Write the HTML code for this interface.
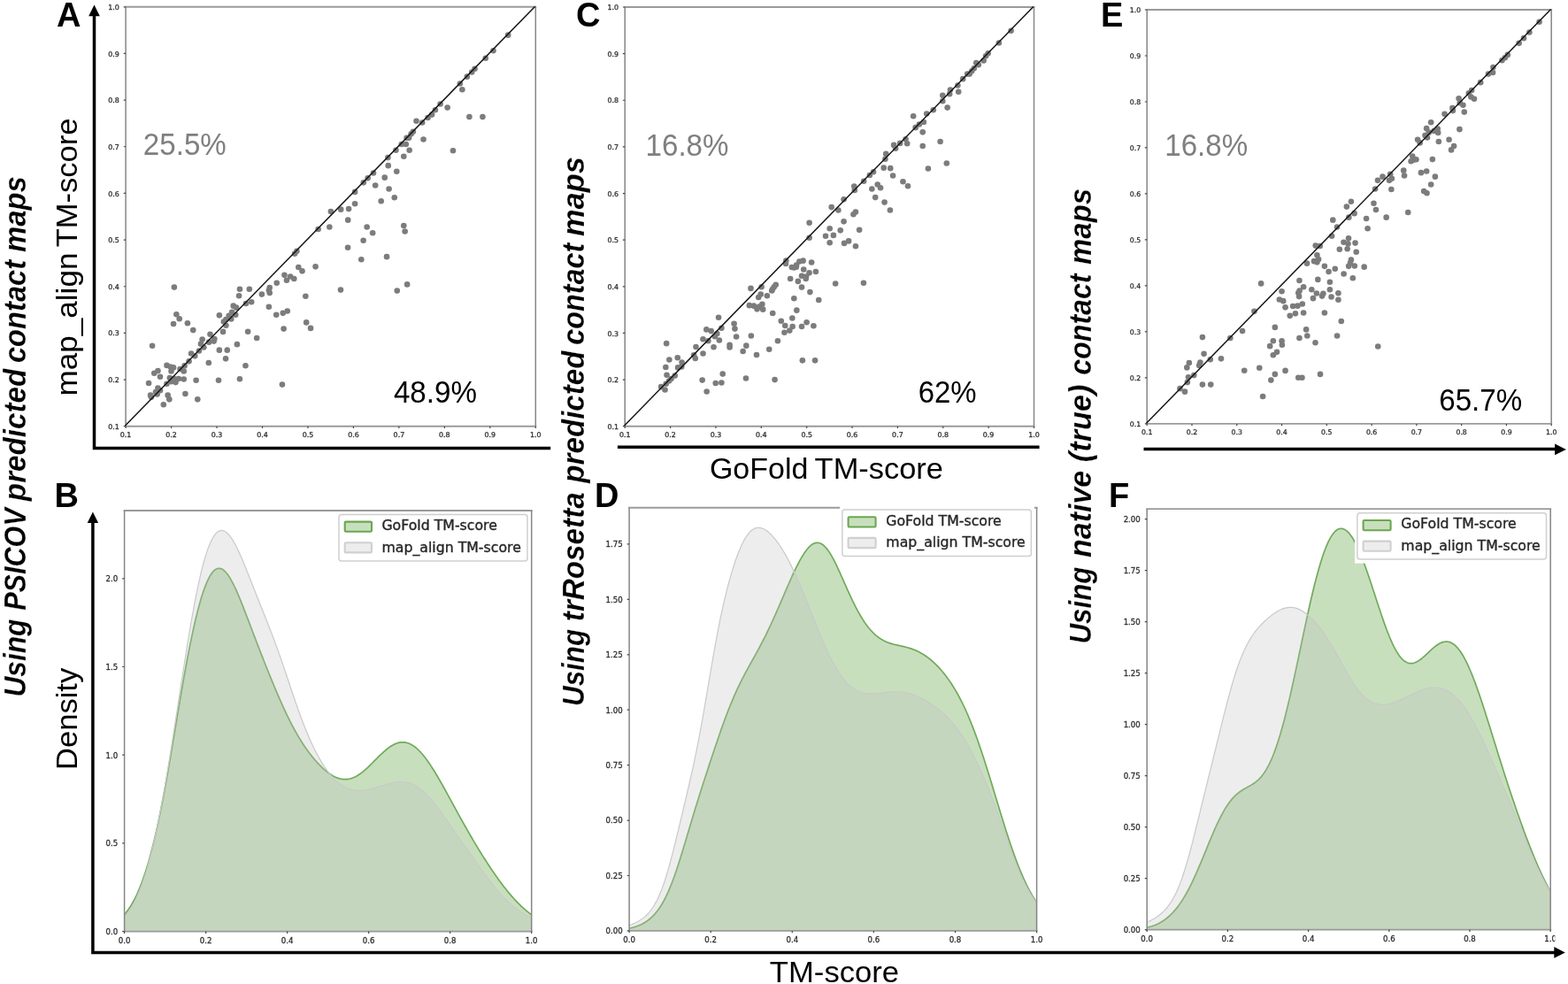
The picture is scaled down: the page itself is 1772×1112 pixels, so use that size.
<!DOCTYPE html>
<html lang="en"><head><meta charset="utf-8"><title>GoFold vs map_align TM-score</title>
<style>html,body{margin:0;padding:0;background:#fff}svg{display:block}text{white-space:pre}</style></head><body>
<svg width="1772" height="1112" viewBox="0 0 1772 1112">
<rect width="1772" height="1112" fill="#fff"/>
<g>
<path d="M141.15 7.8H606.25M141.15 481.7H606.25" fill="none" stroke="#9a9a9a" stroke-width="1.9"/>
<path d="M142.1 7.8V481.7M605.3 7.8V481.7" fill="none" stroke="#868686" stroke-width="1.5"/>
<path d="M142.1 481.7v2.4M193.57 481.7v2.4M245.03 481.7v2.4M296.5 481.7v2.4M347.97 481.7v2.4M399.43 481.7v2.4M450.9 481.7v2.4M502.37 481.7v2.4M553.83 481.7v2.4M605.3 481.7v2.4M142.1 481.7h-2.4M142.1 429.04h-2.4M142.1 376.39h-2.4M142.1 323.73h-2.4M142.1 271.08h-2.4M142.1 218.42h-2.4M142.1 165.77h-2.4M142.1 113.11h-2.4M142.1 60.46h-2.4M142.1 7.8h-2.4" stroke="#4a4a4a" stroke-width="1.2" fill="none"/>
<g font-family='"DejaVu Sans", "Liberation Sans", sans-serif' font-size="7.9" fill="#303030" stroke="#303030" stroke-width="0.3">
<text x="142.1" y="494.3" text-anchor="middle">0.1</text>
<text x="193.57" y="494.3" text-anchor="middle">0.2</text>
<text x="245.03" y="494.3" text-anchor="middle">0.3</text>
<text x="296.5" y="494.3" text-anchor="middle">0.4</text>
<text x="347.97" y="494.3" text-anchor="middle">0.5</text>
<text x="399.43" y="494.3" text-anchor="middle">0.6</text>
<text x="450.9" y="494.3" text-anchor="middle">0.7</text>
<text x="502.37" y="494.3" text-anchor="middle">0.8</text>
<text x="553.83" y="494.3" text-anchor="middle">0.9</text>
<text x="605.3" y="494.3" text-anchor="middle">1.0</text>
<text x="134.9" y="484.8" text-anchor="end">0.1</text>
<text x="134.9" y="432.14" text-anchor="end">0.2</text>
<text x="134.9" y="379.49" text-anchor="end">0.3</text>
<text x="134.9" y="326.83" text-anchor="end">0.4</text>
<text x="134.9" y="274.18" text-anchor="end">0.5</text>
<text x="134.9" y="221.52" text-anchor="end">0.6</text>
<text x="134.9" y="168.87" text-anchor="end">0.7</text>
<text x="134.9" y="116.21" text-anchor="end">0.8</text>
<text x="134.9" y="63.56" text-anchor="end">0.9</text>
<text x="134.9" y="10.9" text-anchor="end">1.0</text>
</g>
<g fill="#7c7c7c">
<circle cx="196.86" cy="324.58" r="3.3"/>
<circle cx="384.99" cy="327.59" r="3.3"/>
<circle cx="356.56" cy="301.34" r="3.3"/>
<circle cx="337.33" cy="302.01" r="3.3"/>
<circle cx="341.51" cy="306.35" r="3.3"/>
<circle cx="321.45" cy="310.87" r="3.3"/>
<circle cx="328.14" cy="312.54" r="3.3"/>
<circle cx="332.32" cy="315.05" r="3.3"/>
<circle cx="323.95" cy="316.72" r="3.3"/>
<circle cx="312.75" cy="319.73" r="3.3"/>
<circle cx="304.72" cy="325.08" r="3.3"/>
<circle cx="303.89" cy="328.09" r="3.3"/>
<circle cx="304.72" cy="330.94" r="3.3"/>
<circle cx="295.86" cy="332.61" r="3.3"/>
<circle cx="270.94" cy="326.76" r="3.3"/>
<circle cx="281.81" cy="326.76" r="3.3"/>
<circle cx="270.11" cy="334.28" r="3.3"/>
<circle cx="345.36" cy="334.78" r="3.3"/>
<circle cx="284.15" cy="341.31" r="3.3"/>
<circle cx="277.97" cy="342.98" r="3.3"/>
<circle cx="263.75" cy="345.65" r="3.3"/>
<circle cx="267.1" cy="347.66" r="3.3"/>
<circle cx="303.89" cy="346.82" r="3.3"/>
<circle cx="324.79" cy="351.51" r="3.3"/>
<circle cx="319.77" cy="353.85" r="3.3"/>
<circle cx="312.25" cy="355.69" r="3.3"/>
<circle cx="262.08" cy="352.68" r="3.3"/>
<circle cx="266.26" cy="355.69" r="3.3"/>
<circle cx="258.73" cy="356.86" r="3.3"/>
<circle cx="247.86" cy="356.36" r="3.3"/>
<circle cx="261.24" cy="360.54" r="3.3"/>
<circle cx="255.39" cy="361.04" r="3.3"/>
<circle cx="252.88" cy="363.55" r="3.3"/>
<circle cx="255.39" cy="367.73" r="3.3"/>
<circle cx="199.37" cy="355.19" r="3.3"/>
<circle cx="202.71" cy="360.2" r="3.3"/>
<circle cx="196.02" cy="366.06" r="3.3"/>
<circle cx="211.91" cy="365.22" r="3.3"/>
<circle cx="218.26" cy="373.08" r="3.3"/>
<circle cx="346.2" cy="364.38" r="3.3"/>
<circle cx="351.05" cy="370.91" r="3.3"/>
<circle cx="320.61" cy="371.58" r="3.3"/>
<circle cx="252.05" cy="374.92" r="3.3"/>
<circle cx="280.14" cy="374.75" r="3.3"/>
<circle cx="237.5" cy="377.76" r="3.3"/>
<circle cx="290.17" cy="381.94" r="3.3"/>
<circle cx="228.63" cy="383.62" r="3.3"/>
<circle cx="242.35" cy="383.11" r="3.3"/>
<circle cx="241.68" cy="385.62" r="3.3"/>
<circle cx="236.16" cy="386.63" r="3.3"/>
<circle cx="226.96" cy="388.63" r="3.3"/>
<circle cx="267.93" cy="389.13" r="3.3"/>
<circle cx="230.31" cy="392.48" r="3.3"/>
<circle cx="172.11" cy="390.81" r="3.3"/>
<circle cx="247.86" cy="395.66" r="3.3"/>
<circle cx="256.73" cy="395.66" r="3.3"/>
<circle cx="224.95" cy="396.49" r="3.3"/>
<circle cx="216.09" cy="399.5" r="3.3"/>
<circle cx="220.27" cy="402.35" r="3.3"/>
<circle cx="255.06" cy="405.36" r="3.3"/>
<circle cx="213.58" cy="408.37" r="3.3"/>
<circle cx="235.82" cy="410.04" r="3.3"/>
<circle cx="277.46" cy="413.22" r="3.3"/>
<circle cx="208.56" cy="413.38" r="3.3"/>
<circle cx="188.5" cy="412.88" r="3.3"/>
<circle cx="192.68" cy="414.55" r="3.3"/>
<circle cx="196.02" cy="415.39" r="3.3"/>
<circle cx="203.55" cy="417.06" r="3.3"/>
<circle cx="193.51" cy="419.57" r="3.3"/>
<circle cx="207.73" cy="419.57" r="3.3"/>
<circle cx="178.46" cy="419.07" r="3.3"/>
<circle cx="174.28" cy="421.74" r="3.3"/>
<circle cx="180.97" cy="425.76" r="3.3"/>
<circle cx="191.84" cy="427.1" r="3.3"/>
<circle cx="196.86" cy="427.93" r="3.3"/>
<circle cx="201.88" cy="427.93" r="3.3"/>
<circle cx="207.73" cy="428.43" r="3.3"/>
<circle cx="198.53" cy="432.11" r="3.3"/>
<circle cx="193.51" cy="431.28" r="3.3"/>
<circle cx="188.5" cy="433.79" r="3.3"/>
<circle cx="168.09" cy="432.95" r="3.3"/>
<circle cx="221.61" cy="429.77" r="3.3"/>
<circle cx="247.03" cy="429.77" r="3.3"/>
<circle cx="270.94" cy="428.27" r="3.3"/>
<circle cx="318.94" cy="434.62" r="3.3"/>
<circle cx="178.46" cy="438.47" r="3.3"/>
<circle cx="180.97" cy="441.31" r="3.3"/>
<circle cx="175.95" cy="442.98" r="3.3"/>
<circle cx="177.63" cy="445.49" r="3.3"/>
<circle cx="170.1" cy="446.66" r="3.3"/>
<circle cx="170.94" cy="448.84" r="3.3"/>
<circle cx="189.67" cy="446.66" r="3.3"/>
<circle cx="191.34" cy="451.34" r="3.3"/>
<circle cx="209.4" cy="444.99" r="3.3"/>
<circle cx="223.28" cy="451.34" r="3.3"/>
<circle cx="184.82" cy="457.2" r="3.3"/>
<circle cx="438.73" cy="187.13" r="3.3"/>
<circle cx="448.27" cy="193.81" r="3.3"/>
<circle cx="422.01" cy="195.49" r="3.3"/>
<circle cx="434.72" cy="200.67" r="3.3"/>
<circle cx="415.66" cy="201.34" r="3.3"/>
<circle cx="410.81" cy="206.36" r="3.3"/>
<circle cx="424.19" cy="209.53" r="3.3"/>
<circle cx="439.57" cy="213.55" r="3.3"/>
<circle cx="401.11" cy="216.89" r="3.3"/>
<circle cx="445.76" cy="223.25" r="3.3"/>
<circle cx="430.71" cy="227.26" r="3.3"/>
<circle cx="401.11" cy="230.27" r="3.3"/>
<circle cx="394.08" cy="236.12" r="3.3"/>
<circle cx="385.22" cy="236.63" r="3.3"/>
<circle cx="373.85" cy="238.97" r="3.3"/>
<circle cx="393.25" cy="248.67" r="3.3"/>
<circle cx="456.29" cy="255.02" r="3.3"/>
<circle cx="414.65" cy="256.53" r="3.3"/>
<circle cx="372.34" cy="256.53" r="3.3"/>
<circle cx="359.63" cy="259.04" r="3.3"/>
<circle cx="457.63" cy="261.54" r="3.3"/>
<circle cx="421.18" cy="263.22" r="3.3"/>
<circle cx="410.64" cy="271.74" r="3.3"/>
<circle cx="393.08" cy="279.77" r="3.3"/>
<circle cx="335.39" cy="283.79" r="3.3"/>
<circle cx="333.04" cy="286.8" r="3.3"/>
<circle cx="437.06" cy="290.14" r="3.3"/>
<circle cx="408.3" cy="293.32" r="3.3"/>
<circle cx="460.14" cy="321.41" r="3.3"/>
<circle cx="448.77" cy="328.6" r="3.3"/>
<circle cx="574.19" cy="39.63" r="3.3"/>
<circle cx="557.47" cy="57.19" r="3.3"/>
<circle cx="548.77" cy="65.72" r="3.3"/>
<circle cx="536.56" cy="77.76" r="3.3"/>
<circle cx="533.22" cy="81.44" r="3.3"/>
<circle cx="527.87" cy="86.63" r="3.3"/>
<circle cx="519.84" cy="94.49" r="3.3"/>
<circle cx="522.35" cy="101.18" r="3.3"/>
<circle cx="497.6" cy="117.56" r="3.3"/>
<circle cx="505.63" cy="121.58" r="3.3"/>
<circle cx="491.91" cy="124.25" r="3.3"/>
<circle cx="530.38" cy="132.11" r="3.3"/>
<circle cx="545.43" cy="132.11" r="3.3"/>
<circle cx="488.07" cy="129.6" r="3.3"/>
<circle cx="483.55" cy="132.95" r="3.3"/>
<circle cx="470.51" cy="136.8" r="3.3"/>
<circle cx="477.2" cy="138.47" r="3.3"/>
<circle cx="466.83" cy="148.84" r="3.3"/>
<circle cx="464.66" cy="151.34" r="3.3"/>
<circle cx="462.15" cy="155.86" r="3.3"/>
<circle cx="459.64" cy="155.86" r="3.3"/>
<circle cx="478.54" cy="157.53" r="3.3"/>
<circle cx="458.8" cy="163.05" r="3.3"/>
<circle cx="453.79" cy="163.05" r="3.3"/>
<circle cx="462.65" cy="169.74" r="3.3"/>
<circle cx="447.43" cy="169.74" r="3.3"/>
<circle cx="511.98" cy="170.24" r="3.3"/>
<circle cx="456.29" cy="176.76" r="3.3"/>
<circle cx="438.4" cy="178.1" r="3.3"/>
</g>
<line x1="141.5" y1="481.1" x2="604.7" y2="7.2" stroke="#141414" stroke-width="1.5"/>
<path d="M705.25 8H1169.45M705.25 481.7H1169.45" fill="none" stroke="#9a9a9a" stroke-width="1.9"/>
<path d="M706.2 8V481.7M1168.5 8V481.7" fill="none" stroke="#868686" stroke-width="1.5"/>
<path d="M706.2 481.7v2.4M757.57 481.7v2.4M808.93 481.7v2.4M860.3 481.7v2.4M911.67 481.7v2.4M963.03 481.7v2.4M1014.4 481.7v2.4M1065.77 481.7v2.4M1117.13 481.7v2.4M1168.5 481.7v2.4M706.2 481.7h-2.4M706.2 429.07h-2.4M706.2 376.43h-2.4M706.2 323.8h-2.4M706.2 271.17h-2.4M706.2 218.53h-2.4M706.2 165.9h-2.4M706.2 113.27h-2.4M706.2 60.63h-2.4M706.2 8h-2.4" stroke="#4a4a4a" stroke-width="1.2" fill="none"/>
<g font-family='"DejaVu Sans", "Liberation Sans", sans-serif' font-size="7.9" fill="#303030" stroke="#303030" stroke-width="0.3">
<text x="706.2" y="494.3" text-anchor="middle">0.1</text>
<text x="757.57" y="494.3" text-anchor="middle">0.2</text>
<text x="808.93" y="494.3" text-anchor="middle">0.3</text>
<text x="860.3" y="494.3" text-anchor="middle">0.4</text>
<text x="911.67" y="494.3" text-anchor="middle">0.5</text>
<text x="963.03" y="494.3" text-anchor="middle">0.6</text>
<text x="1014.4" y="494.3" text-anchor="middle">0.7</text>
<text x="1065.77" y="494.3" text-anchor="middle">0.8</text>
<text x="1117.13" y="494.3" text-anchor="middle">0.9</text>
<text x="1168.5" y="494.3" text-anchor="middle">1.0</text>
<text x="699" y="484.8" text-anchor="end">0.1</text>
<text x="699" y="432.17" text-anchor="end">0.2</text>
<text x="699" y="379.53" text-anchor="end">0.3</text>
<text x="699" y="326.9" text-anchor="end">0.4</text>
<text x="699" y="274.27" text-anchor="end">0.5</text>
<text x="699" y="221.63" text-anchor="end">0.6</text>
<text x="699" y="169" text-anchor="end">0.7</text>
<text x="699" y="116.37" text-anchor="end">0.8</text>
<text x="699" y="63.73" text-anchor="end">0.9</text>
<text x="699" y="11.1" text-anchor="end">1.0</text>
</g>
<g fill="#7c7c7c">
<circle cx="894.82" cy="302.01" r="3.3"/>
<circle cx="897.33" cy="302.51" r="3.3"/>
<circle cx="899.84" cy="301.67" r="3.3"/>
<circle cx="908.2" cy="304.52" r="3.3"/>
<circle cx="921.92" cy="307.02" r="3.3"/>
<circle cx="914.56" cy="308.36" r="3.3"/>
<circle cx="906.03" cy="311.71" r="3.3"/>
<circle cx="911.05" cy="312.54" r="3.3"/>
<circle cx="893.15" cy="315.05" r="3.3"/>
<circle cx="910.71" cy="315.05" r="3.3"/>
<circle cx="901.85" cy="317.89" r="3.3"/>
<circle cx="944.16" cy="320.57" r="3.3"/>
<circle cx="975.93" cy="319.73" r="3.3"/>
<circle cx="906.03" cy="324.58" r="3.3"/>
<circle cx="876.76" cy="321.74" r="3.3"/>
<circle cx="874.76" cy="324.25" r="3.3"/>
<circle cx="873.08" cy="326.76" r="3.3"/>
<circle cx="872.25" cy="328.43" r="3.3"/>
<circle cx="860.54" cy="324.25" r="3.3"/>
<circle cx="848.5" cy="325.92" r="3.3"/>
<circle cx="915.39" cy="330.1" r="3.3"/>
<circle cx="859.71" cy="332.61" r="3.3"/>
<circle cx="866.9" cy="334.28" r="3.3"/>
<circle cx="857.2" cy="335.95" r="3.3"/>
<circle cx="897.33" cy="337.29" r="3.3"/>
<circle cx="925.26" cy="338.96" r="3.3"/>
<circle cx="861.38" cy="343.81" r="3.3"/>
<circle cx="846.83" cy="345.15" r="3.3"/>
<circle cx="851.85" cy="345.65" r="3.3"/>
<circle cx="858.03" cy="346.49" r="3.3"/>
<circle cx="855.53" cy="349.33" r="3.3"/>
<circle cx="862.21" cy="349.67" r="3.3"/>
<circle cx="900.34" cy="350.67" r="3.3"/>
<circle cx="873.25" cy="354.02" r="3.3"/>
<circle cx="812.05" cy="358.7" r="3.3"/>
<circle cx="895.33" cy="359.53" r="3.3"/>
<circle cx="882.78" cy="362.71" r="3.3"/>
<circle cx="911.55" cy="364.22" r="3.3"/>
<circle cx="829.6" cy="365.72" r="3.3"/>
<circle cx="887.3" cy="368.06" r="3.3"/>
<circle cx="895.66" cy="369.07" r="3.3"/>
<circle cx="906.03" cy="369.07" r="3.3"/>
<circle cx="919.41" cy="368.23" r="3.3"/>
<circle cx="815.39" cy="370.74" r="3.3"/>
<circle cx="830.44" cy="371.58" r="3.3"/>
<circle cx="798.33" cy="372.41" r="3.3"/>
<circle cx="803.68" cy="374.08" r="3.3"/>
<circle cx="892.32" cy="373.58" r="3.3"/>
<circle cx="886.46" cy="375.76" r="3.3"/>
<circle cx="810.37" cy="376.93" r="3.3"/>
<circle cx="807.86" cy="380.27" r="3.3"/>
<circle cx="832.11" cy="380.44" r="3.3"/>
<circle cx="848.84" cy="379.44" r="3.3"/>
<circle cx="794.49" cy="383.28" r="3.3"/>
<circle cx="812.88" cy="384.45" r="3.3"/>
<circle cx="800.34" cy="385.29" r="3.3"/>
<circle cx="878.94" cy="385.29" r="3.3"/>
<circle cx="753.18" cy="388.13" r="3.3"/>
<circle cx="824.59" cy="389.8" r="3.3"/>
<circle cx="843.32" cy="390.64" r="3.3"/>
<circle cx="786.46" cy="391.98" r="3.3"/>
<circle cx="806.53" cy="392.31" r="3.3"/>
<circle cx="824.59" cy="392.48" r="3.3"/>
<circle cx="869.24" cy="394.82" r="3.3"/>
<circle cx="839.64" cy="396.99" r="3.3"/>
<circle cx="794.49" cy="399.5" r="3.3"/>
<circle cx="784.12" cy="401.18" r="3.3"/>
<circle cx="855.02" cy="401.01" r="3.3"/>
<circle cx="765.72" cy="404.19" r="3.3"/>
<circle cx="785.79" cy="405.02" r="3.3"/>
<circle cx="756.36" cy="406.53" r="3.3"/>
<circle cx="906.87" cy="407.36" r="3.3"/>
<circle cx="921.08" cy="407.36" r="3.3"/>
<circle cx="770.57" cy="409.54" r="3.3"/>
<circle cx="752.34" cy="415.06" r="3.3"/>
<circle cx="766.06" cy="415.39" r="3.3"/>
<circle cx="770.24" cy="414.55" r="3.3"/>
<circle cx="816.73" cy="422.58" r="3.3"/>
<circle cx="753.51" cy="423.75" r="3.3"/>
<circle cx="762.71" cy="424.59" r="3.3"/>
<circle cx="758.53" cy="427.93" r="3.3"/>
<circle cx="842.98" cy="427.43" r="3.3"/>
<circle cx="875.59" cy="429.1" r="3.3"/>
<circle cx="793.65" cy="429.6" r="3.3"/>
<circle cx="756.02" cy="430.44" r="3.3"/>
<circle cx="808.7" cy="432.95" r="3.3"/>
<circle cx="815.39" cy="432.45" r="3.3"/>
<circle cx="752.68" cy="433.79" r="3.3"/>
<circle cx="747.16" cy="437.13" r="3.3"/>
<circle cx="751.51" cy="440.47" r="3.3"/>
<circle cx="798.67" cy="442.48" r="3.3"/>
<circle cx="998.73" cy="189.63" r="3.3"/>
<circle cx="1006.26" cy="190.14" r="3.3"/>
<circle cx="1048.9" cy="190.47" r="3.3"/>
<circle cx="987.03" cy="194.32" r="3.3"/>
<circle cx="982.85" cy="198" r="3.3"/>
<circle cx="1009.1" cy="198.5" r="3.3"/>
<circle cx="976.16" cy="204.68" r="3.3"/>
<circle cx="1020.47" cy="205.19" r="3.3"/>
<circle cx="991.71" cy="208.53" r="3.3"/>
<circle cx="1025.99" cy="210.2" r="3.3"/>
<circle cx="965.29" cy="210.54" r="3.3"/>
<circle cx="995.06" cy="212.21" r="3.3"/>
<circle cx="985.36" cy="213.55" r="3.3"/>
<circle cx="965.79" cy="214.89" r="3.3"/>
<circle cx="989.2" cy="223.08" r="3.3"/>
<circle cx="953.58" cy="225.25" r="3.3"/>
<circle cx="999.57" cy="228.6" r="3.3"/>
<circle cx="939.7" cy="234.12" r="3.3"/>
<circle cx="947.39" cy="237.46" r="3.3"/>
<circle cx="1005.93" cy="237.46" r="3.3"/>
<circle cx="966.96" cy="239.47" r="3.3"/>
<circle cx="964.45" cy="242.31" r="3.3"/>
<circle cx="953.58" cy="250.34" r="3.3"/>
<circle cx="914.62" cy="251.68" r="3.3"/>
<circle cx="937.69" cy="258.2" r="3.3"/>
<circle cx="949.74" cy="260.37" r="3.3"/>
<circle cx="971.14" cy="259.87" r="3.3"/>
<circle cx="933.01" cy="266.73" r="3.3"/>
<circle cx="941.88" cy="265.89" r="3.3"/>
<circle cx="914.62" cy="268.73" r="3.3"/>
<circle cx="937.69" cy="274.25" r="3.3"/>
<circle cx="959.1" cy="272.41" r="3.3"/>
<circle cx="954.08" cy="274.92" r="3.3"/>
<circle cx="966.96" cy="278.27" r="3.3"/>
<circle cx="888.36" cy="294.66" r="3.3"/>
<circle cx="888.03" cy="298" r="3.3"/>
<circle cx="907.59" cy="294.66" r="3.3"/>
<circle cx="903.41" cy="295.49" r="3.3"/>
<circle cx="917.13" cy="296.49" r="3.3"/>
<circle cx="900.07" cy="299.67" r="3.3"/>
<circle cx="1142.55" cy="34.78" r="3.3"/>
<circle cx="1128.84" cy="48.5" r="3.3"/>
<circle cx="1116.63" cy="60.2" r="3.3"/>
<circle cx="1114.12" cy="63.21" r="3.3"/>
<circle cx="1111.62" cy="68.56" r="3.3"/>
<circle cx="1103.25" cy="71.07" r="3.3"/>
<circle cx="1105.76" cy="73.25" r="3.3"/>
<circle cx="1100.75" cy="77.26" r="3.3"/>
<circle cx="1098.24" cy="80.27" r="3.3"/>
<circle cx="1093.22" cy="83.62" r="3.3"/>
<circle cx="1095.73" cy="83.62" r="3.3"/>
<circle cx="1088.2" cy="89.13" r="3.3"/>
<circle cx="1082.35" cy="96.49" r="3.3"/>
<circle cx="1073.99" cy="101.51" r="3.3"/>
<circle cx="1083.19" cy="103.68" r="3.3"/>
<circle cx="1065.29" cy="107.86" r="3.3"/>
<circle cx="1073.15" cy="106.19" r="3.3"/>
<circle cx="1065.29" cy="114.22" r="3.3"/>
<circle cx="1070.64" cy="121.58" r="3.3"/>
<circle cx="1054.76" cy="124.25" r="3.3"/>
<circle cx="1047.23" cy="128.43" r="3.3"/>
<circle cx="1032.18" cy="131.28" r="3.3"/>
<circle cx="1043.89" cy="137.97" r="3.3"/>
<circle cx="1038.87" cy="140.47" r="3.3"/>
<circle cx="1034.69" cy="144.15" r="3.3"/>
<circle cx="1042.72" cy="149.34" r="3.3"/>
<circle cx="1023.48" cy="157.2" r="3.3"/>
<circle cx="1062.62" cy="160.04" r="3.3"/>
<circle cx="1017.13" cy="161.88" r="3.3"/>
<circle cx="1025.16" cy="162.21" r="3.3"/>
<circle cx="1010.11" cy="163.89" r="3.3"/>
<circle cx="1042.72" cy="165.06" r="3.3"/>
<circle cx="1012.11" cy="167.73" r="3.3"/>
<circle cx="1001.24" cy="173.92" r="3.3"/>
<circle cx="1000.41" cy="179.77" r="3.3"/>
<circle cx="1069.81" cy="184.46" r="3.3"/>
</g>
<line x1="705.6" y1="481.1" x2="1167.9" y2="7.4" stroke="#141414" stroke-width="1.5"/>
<path d="M1295.25 11H1754.15M1295.25 478.9H1754.15" fill="none" stroke="#9a9a9a" stroke-width="1.9"/>
<path d="M1296.2 11V478.9M1753.2 11V478.9" fill="none" stroke="#868686" stroke-width="1.5"/>
<path d="M1296.2 478.9v2.4M1346.98 478.9v2.4M1397.76 478.9v2.4M1448.53 478.9v2.4M1499.31 478.9v2.4M1550.09 478.9v2.4M1600.87 478.9v2.4M1651.64 478.9v2.4M1702.42 478.9v2.4M1753.2 478.9v2.4M1296.2 478.9h-2.4M1296.2 426.91h-2.4M1296.2 374.92h-2.4M1296.2 322.93h-2.4M1296.2 270.94h-2.4M1296.2 218.96h-2.4M1296.2 166.97h-2.4M1296.2 114.98h-2.4M1296.2 62.99h-2.4M1296.2 11h-2.4" stroke="#4a4a4a" stroke-width="1.2" fill="none"/>
<g font-family='"DejaVu Sans", "Liberation Sans", sans-serif' font-size="7.8" fill="#303030" stroke="#303030" stroke-width="0.3">
<text x="1296.2" y="490.6" text-anchor="middle">0.1</text>
<text x="1346.98" y="490.6" text-anchor="middle">0.2</text>
<text x="1397.76" y="490.6" text-anchor="middle">0.3</text>
<text x="1448.53" y="490.6" text-anchor="middle">0.4</text>
<text x="1499.31" y="490.6" text-anchor="middle">0.5</text>
<text x="1550.09" y="490.6" text-anchor="middle">0.6</text>
<text x="1600.87" y="490.6" text-anchor="middle">0.7</text>
<text x="1651.64" y="490.6" text-anchor="middle">0.8</text>
<text x="1702.42" y="490.6" text-anchor="middle">0.9</text>
<text x="1753.2" y="490.6" text-anchor="middle">1.0</text>
<text x="1289.2" y="481.9" text-anchor="end">0.1</text>
<text x="1289.2" y="429.91" text-anchor="end">0.2</text>
<text x="1289.2" y="377.92" text-anchor="end">0.3</text>
<text x="1289.2" y="325.93" text-anchor="end">0.4</text>
<text x="1289.2" y="273.94" text-anchor="end">0.5</text>
<text x="1289.2" y="221.96" text-anchor="end">0.6</text>
<text x="1289.2" y="169.97" text-anchor="end">0.7</text>
<text x="1289.2" y="117.98" text-anchor="end">0.8</text>
<text x="1289.2" y="65.99" text-anchor="end">0.9</text>
<text x="1289.2" y="14" text-anchor="end">1.0</text>
</g>
<g fill="#7c7c7c">
<circle cx="1496.87" cy="300.84" r="3.3"/>
<circle cx="1524.12" cy="300.84" r="3.3"/>
<circle cx="1530.81" cy="300.5" r="3.3"/>
<circle cx="1541.68" cy="301.67" r="3.3"/>
<circle cx="1508.74" cy="303.68" r="3.3"/>
<circle cx="1501.55" cy="307.02" r="3.3"/>
<circle cx="1518.61" cy="309.53" r="3.3"/>
<circle cx="1528.81" cy="314.21" r="3.3"/>
<circle cx="1468.44" cy="317.06" r="3.3"/>
<circle cx="1489.34" cy="315.89" r="3.3"/>
<circle cx="1502.89" cy="318.73" r="3.3"/>
<circle cx="1425.12" cy="320.4" r="3.3"/>
<circle cx="1473.12" cy="324.25" r="3.3"/>
<circle cx="1482.32" cy="327.26" r="3.3"/>
<circle cx="1502.89" cy="327.26" r="3.3"/>
<circle cx="1448.54" cy="329.27" r="3.3"/>
<circle cx="1468.6" cy="328.43" r="3.3"/>
<circle cx="1467.27" cy="330.94" r="3.3"/>
<circle cx="1487.84" cy="331.44" r="3.3"/>
<circle cx="1495.36" cy="331.77" r="3.3"/>
<circle cx="1512.42" cy="331.27" r="3.3"/>
<circle cx="1468.1" cy="335.12" r="3.3"/>
<circle cx="1494.02" cy="334.62" r="3.3"/>
<circle cx="1504.56" cy="335.45" r="3.3"/>
<circle cx="1483.99" cy="337.13" r="3.3"/>
<circle cx="1512.42" cy="338.8" r="3.3"/>
<circle cx="1445.86" cy="338.46" r="3.3"/>
<circle cx="1450.21" cy="340.14" r="3.3"/>
<circle cx="1471.78" cy="343.48" r="3.3"/>
<circle cx="1461.08" cy="345.99" r="3.3"/>
<circle cx="1466.43" cy="345.65" r="3.3"/>
<circle cx="1452.55" cy="347.33" r="3.3"/>
<circle cx="1417.43" cy="351.84" r="3.3"/>
<circle cx="1463.92" cy="354.35" r="3.3"/>
<circle cx="1473.12" cy="353.51" r="3.3"/>
<circle cx="1496.87" cy="353.51" r="3.3"/>
<circle cx="1457.73" cy="356.86" r="3.3"/>
<circle cx="1515.76" cy="363.05" r="3.3"/>
<circle cx="1440.84" cy="369.9" r="3.3"/>
<circle cx="1476.13" cy="372.41" r="3.3"/>
<circle cx="1404.05" cy="374.08" r="3.3"/>
<circle cx="1477.3" cy="379.44" r="3.3"/>
<circle cx="1511.08" cy="379.44" r="3.3"/>
<circle cx="1358.9" cy="381.11" r="3.3"/>
<circle cx="1390.34" cy="381.94" r="3.3"/>
<circle cx="1468.44" cy="381.94" r="3.3"/>
<circle cx="1438.84" cy="385.29" r="3.3"/>
<circle cx="1448.54" cy="385.29" r="3.3"/>
<circle cx="1486.5" cy="387.29" r="3.3"/>
<circle cx="1448.87" cy="389.8" r="3.3"/>
<circle cx="1435.16" cy="391.14" r="3.3"/>
<circle cx="1557.24" cy="391.48" r="3.3"/>
<circle cx="1443.02" cy="397.83" r="3.3"/>
<circle cx="1438.84" cy="401.18" r="3.3"/>
<circle cx="1360.57" cy="399.84" r="3.3"/>
<circle cx="1367.76" cy="406.19" r="3.3"/>
<circle cx="1379.97" cy="405.36" r="3.3"/>
<circle cx="1343.85" cy="410.04" r="3.3"/>
<circle cx="1356.39" cy="409.54" r="3.3"/>
<circle cx="1355.22" cy="412.88" r="3.3"/>
<circle cx="1341.34" cy="415.39" r="3.3"/>
<circle cx="1406.23" cy="418.73" r="3.3"/>
<circle cx="1423.28" cy="415.72" r="3.3"/>
<circle cx="1452.55" cy="418.9" r="3.3"/>
<circle cx="1440.84" cy="422.92" r="3.3"/>
<circle cx="1492.02" cy="422.92" r="3.3"/>
<circle cx="1349.37" cy="424.09" r="3.3"/>
<circle cx="1343.01" cy="426.26" r="3.3"/>
<circle cx="1467.27" cy="426.76" r="3.3"/>
<circle cx="1471.45" cy="426.76" r="3.3"/>
<circle cx="1436.33" cy="429.6" r="3.3"/>
<circle cx="1341.84" cy="432.11" r="3.3"/>
<circle cx="1358.9" cy="434.62" r="3.3"/>
<circle cx="1368.26" cy="434.62" r="3.3"/>
<circle cx="1333.48" cy="439.14" r="3.3"/>
<circle cx="1339" cy="442.65" r="3.3"/>
<circle cx="1427.13" cy="448" r="3.3"/>
<circle cx="1586.23" cy="192.64" r="3.3"/>
<circle cx="1612.15" cy="193.48" r="3.3"/>
<circle cx="1605.96" cy="195.15" r="3.3"/>
<circle cx="1562.48" cy="199.67" r="3.3"/>
<circle cx="1571.18" cy="196.82" r="3.3"/>
<circle cx="1587.06" cy="198.5" r="3.3"/>
<circle cx="1621.85" cy="199.67" r="3.3"/>
<circle cx="1556.96" cy="203.85" r="3.3"/>
<circle cx="1572.85" cy="201.84" r="3.3"/>
<circle cx="1570" cy="203.85" r="3.3"/>
<circle cx="1617.16" cy="208.53" r="3.3"/>
<circle cx="1554.12" cy="213.55" r="3.3"/>
<circle cx="1572.35" cy="214.05" r="3.3"/>
<circle cx="1609.14" cy="216.06" r="3.3"/>
<circle cx="1612.48" cy="218.23" r="3.3"/>
<circle cx="1526.86" cy="227.76" r="3.3"/>
<circle cx="1552.45" cy="229.77" r="3.3"/>
<circle cx="1521.84" cy="233.62" r="3.3"/>
<circle cx="1554.95" cy="236.96" r="3.3"/>
<circle cx="1591.24" cy="239.97" r="3.3"/>
<circle cx="1530.54" cy="241.14" r="3.3"/>
<circle cx="1524.35" cy="245.66" r="3.3"/>
<circle cx="1566.66" cy="245.66" r="3.3"/>
<circle cx="1544.08" cy="246.99" r="3.3"/>
<circle cx="1506.29" cy="248.67" r="3.3"/>
<circle cx="1510.97" cy="256.53" r="3.3"/>
<circle cx="1545.59" cy="258.2" r="3.3"/>
<circle cx="1505.12" cy="266.73" r="3.3"/>
<circle cx="1524.02" cy="269.24" r="3.3"/>
<circle cx="1518.5" cy="273.75" r="3.3"/>
<circle cx="1531.54" cy="274.59" r="3.3"/>
<circle cx="1523.51" cy="275.42" r="3.3"/>
<circle cx="1486.72" cy="277.6" r="3.3"/>
<circle cx="1491.74" cy="277.93" r="3.3"/>
<circle cx="1513.81" cy="281.78" r="3.3"/>
<circle cx="1522.68" cy="281.28" r="3.3"/>
<circle cx="1532.71" cy="284.79" r="3.3"/>
<circle cx="1488.4" cy="288.3" r="3.3"/>
<circle cx="1490.07" cy="292.98" r="3.3"/>
<circle cx="1526.86" cy="293.48" r="3.3"/>
<circle cx="1485.05" cy="295.16" r="3.3"/>
<circle cx="1488.4" cy="296.33" r="3.3"/>
<circle cx="1477.02" cy="297.67" r="3.3"/>
<circle cx="1526.02" cy="297.16" r="3.3"/>
<circle cx="1739.58" cy="24.75" r="3.3"/>
<circle cx="1728.37" cy="36.46" r="3.3"/>
<circle cx="1722.02" cy="43.15" r="3.3"/>
<circle cx="1716.67" cy="48.83" r="3.3"/>
<circle cx="1703.79" cy="61.88" r="3.3"/>
<circle cx="1700.78" cy="65.22" r="3.3"/>
<circle cx="1697.44" cy="68.23" r="3.3"/>
<circle cx="1687.4" cy="76.09" r="3.3"/>
<circle cx="1687.07" cy="81.94" r="3.3"/>
<circle cx="1682.05" cy="83.62" r="3.3"/>
<circle cx="1673.19" cy="93.15" r="3.3"/>
<circle cx="1663.15" cy="102.01" r="3.3"/>
<circle cx="1659.81" cy="105.36" r="3.3"/>
<circle cx="1662.32" cy="109.54" r="3.3"/>
<circle cx="1666" cy="111.71" r="3.3"/>
<circle cx="1648.6" cy="111.21" r="3.3"/>
<circle cx="1653.45" cy="118.73" r="3.3"/>
<circle cx="1649.77" cy="116.23" r="3.3"/>
<circle cx="1641.41" cy="122.08" r="3.3"/>
<circle cx="1641.91" cy="125.09" r="3.3"/>
<circle cx="1654.79" cy="126.59" r="3.3"/>
<circle cx="1632.55" cy="128.77" r="3.3"/>
<circle cx="1617.16" cy="138.3" r="3.3"/>
<circle cx="1612.15" cy="145.16" r="3.3"/>
<circle cx="1624.69" cy="145.49" r="3.3"/>
<circle cx="1649.44" cy="146.16" r="3.3"/>
<circle cx="1620.51" cy="148" r="3.3"/>
<circle cx="1614.66" cy="149.67" r="3.3"/>
<circle cx="1625.19" cy="150.01" r="3.3"/>
<circle cx="1610.47" cy="153.02" r="3.3"/>
<circle cx="1612.98" cy="155.53" r="3.3"/>
<circle cx="1602.11" cy="157.7" r="3.3"/>
<circle cx="1637.57" cy="157.7" r="3.3"/>
<circle cx="1625.86" cy="160.04" r="3.3"/>
<circle cx="1604.62" cy="161.38" r="3.3"/>
<circle cx="1643.08" cy="165.06" r="3.3"/>
<circle cx="1640.07" cy="169.41" r="3.3"/>
<circle cx="1596.26" cy="176.43" r="3.3"/>
<circle cx="1597.93" cy="180.61" r="3.3"/>
<circle cx="1618.84" cy="180.11" r="3.3"/>
<circle cx="1594.59" cy="182.28" r="3.3"/>
<circle cx="1600.44" cy="180.28" r="3.3"/>
</g>
<line x1="1295.6" y1="478.3" x2="1752.6" y2="10.4" stroke="#141414" stroke-width="1.5"/>
<clipPath id="clipB"><rect x="140.6" y="577" width="460.1" height="475.6"/></clipPath>
<g clip-path="url(#clipB)">
<path d="M140.6 1033.56L142.1 1031.78L143.6 1029.86L145.1 1027.8L146.6 1025.59L148.1 1023.22L149.6 1020.69L151.1 1017.98L152.6 1015.09L154.1 1012.02L155.6 1008.76L157.1 1005.29L158.6 1001.62L160.1 997.74L161.6 993.63L163.1 989.3L164.6 984.74L166.1 979.94L167.6 974.9L169.1 969.62L170.6 964.09L172.1 958.3L173.6 952.27L175.1 945.97L176.6 939.43L178.1 932.63L179.6 925.58L181.1 918.29L182.6 910.76L184.1 903.01L185.6 895.04L187.1 886.87L188.6 878.52L190.1 870L191.6 861.34L193.1 852.56L194.6 843.69L196.1 834.75L197.6 825.77L199.1 816.78L200.6 807.81L202.1 798.88L203.6 790.03L205.1 781.28L206.6 772.66L208.1 764.18L209.6 755.88L211.1 747.77L212.6 739.87L214.1 732.19L215.6 724.75L217.1 717.57L218.6 710.65L220.1 704.01L221.6 697.66L223.1 691.6L224.6 685.86L226.1 680.43L227.6 675.34L229.1 670.58L230.6 666.16L232.1 662.11L233.6 658.42L235.1 655.1L236.6 652.15L238.1 649.59L239.6 647.41L241.1 645.61L242.6 644.2L244.1 643.17L245.6 642.52L247.1 642.24L248.6 642.32L250.1 642.74L251.6 643.51L253.1 644.6L254.6 646.01L256.1 647.7L257.6 649.67L259.1 651.9L260.6 654.37L262.1 657.05L263.6 659.94L265.1 663L266.6 666.23L268.1 669.6L269.6 673.09L271.1 676.68L272.6 680.37L274.1 684.13L275.6 687.95L277.1 691.82L278.6 695.73L280.1 699.65L281.6 703.6L283.1 707.55L284.6 711.5L286.1 715.44L287.6 719.38L289.1 723.3L290.6 727.21L292.1 731.1L293.6 734.97L295.1 738.82L296.6 742.65L298.1 746.46L299.6 750.24L301.1 754L302.6 757.74L304.1 761.46L305.6 765.15L307.1 768.81L308.6 772.44L310.1 776.04L311.6 779.6L313.1 783.13L314.6 786.62L316.1 790.07L317.6 793.46L319.1 796.81L320.6 800.11L322.1 803.35L323.6 806.53L325.1 809.64L326.6 812.7L328.1 815.68L329.6 818.6L331.1 821.45L332.6 824.23L334.1 826.93L335.6 829.57L337.1 832.14L338.6 834.63L340.1 837.06L341.6 839.42L343.1 841.71L344.6 843.93L346.1 846.09L347.6 848.19L349.1 850.23L350.6 852.21L352.1 854.13L353.6 856L355.1 857.8L356.6 859.55L358.1 861.24L359.6 862.87L361.1 864.45L362.6 865.96L364.1 867.42L365.6 868.81L367.1 870.14L368.6 871.41L370.1 872.6L371.6 873.73L373.1 874.78L374.6 875.75L376.1 876.65L377.6 877.46L379.1 878.19L380.6 878.83L382.1 879.38L383.6 879.84L385.1 880.2L386.6 880.47L388.1 880.64L389.6 880.72L391.1 880.69L392.6 880.56L394.1 880.34L395.6 880.01L397.1 879.59L398.6 879.07L400.1 878.45L401.6 877.74L403.1 876.94L404.6 876.05L406.1 875.08L407.6 874.04L409.1 872.91L410.6 871.72L412.1 870.47L413.6 869.16L415.1 867.8L416.6 866.39L418.1 864.95L419.6 863.47L421.1 861.98L422.6 860.47L424.1 858.95L425.6 857.43L427.1 855.93L428.6 854.43L430.1 852.97L431.6 851.54L433.1 850.14L434.6 848.8L436.1 847.51L437.6 846.29L439.1 845.14L440.6 844.06L442.1 843.07L443.6 842.16L445.1 841.36L446.6 840.65L448.1 840.05L449.6 839.56L451.1 839.18L452.6 838.92L454.1 838.78L455.6 838.77L457.1 838.87L458.6 839.11L460.1 839.46L461.6 839.95L463.1 840.56L464.6 841.3L466.1 842.16L467.6 843.14L469.1 844.24L470.6 845.46L472.1 846.8L473.6 848.25L475.1 849.8L476.6 851.46L478.1 853.22L479.6 855.07L481.1 857.02L482.6 859.05L484.1 861.16L485.6 863.34L487.1 865.6L488.6 867.93L490.1 870.31L491.6 872.75L493.1 875.24L494.6 877.77L496.1 880.35L497.6 882.96L499.1 885.61L500.6 888.28L502.1 890.97L503.6 893.68L505.1 896.41L506.6 899.14L508.1 901.89L509.6 904.64L511.1 907.39L512.6 910.14L514.1 912.89L515.6 915.63L517.1 918.37L518.6 921.09L520.1 923.81L521.6 926.51L523.1 929.2L524.6 931.87L526.1 934.53L527.6 937.17L529.1 939.79L530.6 942.39L532.1 944.98L533.6 947.54L535.1 950.09L536.6 952.61L538.1 955.12L539.6 957.6L541.1 960.07L542.6 962.51L544.1 964.93L545.6 967.33L547.1 969.7L548.6 972.05L550.1 974.38L551.6 976.68L553.1 978.96L554.6 981.21L556.1 983.44L557.6 985.64L559.1 987.81L560.6 989.95L562.1 992.06L563.6 994.15L565.1 996.2L566.6 998.22L568.1 1000.21L569.6 1002.16L571.1 1004.08L572.6 1005.96L574.1 1007.8L575.6 1009.61L577.1 1011.38L578.6 1013.11L580.1 1014.81L581.6 1016.46L583.1 1018.07L584.6 1019.63L586.1 1021.16L587.6 1022.64L589.1 1024.08L590.6 1025.48L592.1 1026.83L593.6 1028.14L595.1 1029.4L596.6 1030.63L598.1 1031.8L599.6 1032.94L600.7 1033.74L600.7 1052.6L140.6 1052.6Z" fill="#6aa84f" fill-opacity="0.37"/>
<path d="M140.6 1033.56L142.1 1031.78L143.6 1029.86L145.1 1027.8L146.6 1025.59L148.1 1023.22L149.6 1020.69L151.1 1017.98L152.6 1015.09L154.1 1012.02L155.6 1008.76L157.1 1005.29L158.6 1001.62L160.1 997.74L161.6 993.63L163.1 989.3L164.6 984.74L166.1 979.94L167.6 974.9L169.1 969.62L170.6 964.09L172.1 958.3L173.6 952.27L175.1 945.97L176.6 939.43L178.1 932.63L179.6 925.58L181.1 918.29L182.6 910.76L184.1 903.01L185.6 895.04L187.1 886.87L188.6 878.52L190.1 870L191.6 861.34L193.1 852.56L194.6 843.69L196.1 834.75L197.6 825.77L199.1 816.78L200.6 807.81L202.1 798.88L203.6 790.03L205.1 781.28L206.6 772.66L208.1 764.18L209.6 755.88L211.1 747.77L212.6 739.87L214.1 732.19L215.6 724.75L217.1 717.57L218.6 710.65L220.1 704.01L221.6 697.66L223.1 691.6L224.6 685.86L226.1 680.43L227.6 675.34L229.1 670.58L230.6 666.16L232.1 662.11L233.6 658.42L235.1 655.1L236.6 652.15L238.1 649.59L239.6 647.41L241.1 645.61L242.6 644.2L244.1 643.17L245.6 642.52L247.1 642.24L248.6 642.32L250.1 642.74L251.6 643.51L253.1 644.6L254.6 646.01L256.1 647.7L257.6 649.67L259.1 651.9L260.6 654.37L262.1 657.05L263.6 659.94L265.1 663L266.6 666.23L268.1 669.6L269.6 673.09L271.1 676.68L272.6 680.37L274.1 684.13L275.6 687.95L277.1 691.82L278.6 695.73L280.1 699.65L281.6 703.6L283.1 707.55L284.6 711.5L286.1 715.44L287.6 719.38L289.1 723.3L290.6 727.21L292.1 731.1L293.6 734.97L295.1 738.82L296.6 742.65L298.1 746.46L299.6 750.24L301.1 754L302.6 757.74L304.1 761.46L305.6 765.15L307.1 768.81L308.6 772.44L310.1 776.04L311.6 779.6L313.1 783.13L314.6 786.62L316.1 790.07L317.6 793.46L319.1 796.81L320.6 800.11L322.1 803.35L323.6 806.53L325.1 809.64L326.6 812.7L328.1 815.68L329.6 818.6L331.1 821.45L332.6 824.23L334.1 826.93L335.6 829.57L337.1 832.14L338.6 834.63L340.1 837.06L341.6 839.42L343.1 841.71L344.6 843.93L346.1 846.09L347.6 848.19L349.1 850.23L350.6 852.21L352.1 854.13L353.6 856L355.1 857.8L356.6 859.55L358.1 861.24L359.6 862.87L361.1 864.45L362.6 865.96L364.1 867.42L365.6 868.81L367.1 870.14L368.6 871.41L370.1 872.6L371.6 873.73L373.1 874.78L374.6 875.75L376.1 876.65L377.6 877.46L379.1 878.19L380.6 878.83L382.1 879.38L383.6 879.84L385.1 880.2L386.6 880.47L388.1 880.64L389.6 880.72L391.1 880.69L392.6 880.56L394.1 880.34L395.6 880.01L397.1 879.59L398.6 879.07L400.1 878.45L401.6 877.74L403.1 876.94L404.6 876.05L406.1 875.08L407.6 874.04L409.1 872.91L410.6 871.72L412.1 870.47L413.6 869.16L415.1 867.8L416.6 866.39L418.1 864.95L419.6 863.47L421.1 861.98L422.6 860.47L424.1 858.95L425.6 857.43L427.1 855.93L428.6 854.43L430.1 852.97L431.6 851.54L433.1 850.14L434.6 848.8L436.1 847.51L437.6 846.29L439.1 845.14L440.6 844.06L442.1 843.07L443.6 842.16L445.1 841.36L446.6 840.65L448.1 840.05L449.6 839.56L451.1 839.18L452.6 838.92L454.1 838.78L455.6 838.77L457.1 838.87L458.6 839.11L460.1 839.46L461.6 839.95L463.1 840.56L464.6 841.3L466.1 842.16L467.6 843.14L469.1 844.24L470.6 845.46L472.1 846.8L473.6 848.25L475.1 849.8L476.6 851.46L478.1 853.22L479.6 855.07L481.1 857.02L482.6 859.05L484.1 861.16L485.6 863.34L487.1 865.6L488.6 867.93L490.1 870.31L491.6 872.75L493.1 875.24L494.6 877.77L496.1 880.35L497.6 882.96L499.1 885.61L500.6 888.28L502.1 890.97L503.6 893.68L505.1 896.41L506.6 899.14L508.1 901.89L509.6 904.64L511.1 907.39L512.6 910.14L514.1 912.89L515.6 915.63L517.1 918.37L518.6 921.09L520.1 923.81L521.6 926.51L523.1 929.2L524.6 931.87L526.1 934.53L527.6 937.17L529.1 939.79L530.6 942.39L532.1 944.98L533.6 947.54L535.1 950.09L536.6 952.61L538.1 955.12L539.6 957.6L541.1 960.07L542.6 962.51L544.1 964.93L545.6 967.33L547.1 969.7L548.6 972.05L550.1 974.38L551.6 976.68L553.1 978.96L554.6 981.21L556.1 983.44L557.6 985.64L559.1 987.81L560.6 989.95L562.1 992.06L563.6 994.15L565.1 996.2L566.6 998.22L568.1 1000.21L569.6 1002.16L571.1 1004.08L572.6 1005.96L574.1 1007.8L575.6 1009.61L577.1 1011.38L578.6 1013.11L580.1 1014.81L581.6 1016.46L583.1 1018.07L584.6 1019.63L586.1 1021.16L587.6 1022.64L589.1 1024.08L590.6 1025.48L592.1 1026.83L593.6 1028.14L595.1 1029.4L596.6 1030.63L598.1 1031.8L599.6 1032.94L600.7 1033.74" fill="none" stroke="#70ab5a" stroke-width="1.7" stroke-linejoin="round"/>
<path d="M140.6 1036.01L142.1 1034.31L143.6 1032.48L145.1 1030.49L146.6 1028.34L148.1 1026.02L149.6 1023.52L151.1 1020.84L152.6 1017.96L154.1 1014.87L155.6 1011.58L157.1 1008.06L158.6 1004.31L160.1 1000.32L161.6 996.09L163.1 991.61L164.6 986.88L166.1 981.88L167.6 976.62L169.1 971.09L170.6 965.29L172.1 959.21L173.6 952.87L175.1 946.25L176.6 939.36L178.1 932.21L179.6 924.79L181.1 917.12L182.6 909.21L184.1 901.05L185.6 892.67L187.1 884.08L188.6 875.28L190.1 866.3L191.6 857.15L193.1 847.85L194.6 838.42L196.1 828.87L197.6 819.24L199.1 809.54L200.6 799.79L202.1 790.02L203.6 780.26L205.1 770.54L206.6 760.86L208.1 751.28L209.6 741.8L211.1 732.45L212.6 723.27L214.1 714.28L215.6 705.49L217.1 696.94L218.6 688.65L220.1 680.65L221.6 672.94L223.1 665.55L224.6 658.51L226.1 651.82L227.6 645.49L229.1 639.56L230.6 634.01L232.1 628.88L233.6 624.15L235.1 619.84L236.6 615.94L238.1 612.47L239.6 609.43L241.1 606.8L242.6 604.58L244.1 602.77L245.6 601.37L247.1 600.36L248.6 599.73L250.1 599.47L251.6 599.57L253.1 600.01L254.6 600.78L256.1 601.86L257.6 603.25L259.1 604.91L260.6 606.83L262.1 609L263.6 611.39L265.1 614L266.6 616.79L268.1 619.76L269.6 622.88L271.1 626.15L272.6 629.53L274.1 633.02L275.6 636.59L277.1 640.24L278.6 643.95L280.1 647.71L281.6 651.5L283.1 655.31L284.6 659.14L286.1 662.97L287.6 666.79L289.1 670.61L290.6 674.42L292.1 678.21L293.6 682L295.1 685.76L296.6 689.53L298.1 693.28L299.6 697.04L301.1 700.81L302.6 704.6L304.1 708.41L305.6 712.26L307.1 716.14L308.6 720.08L310.1 724.06L311.6 728.11L313.1 732.22L314.6 736.39L316.1 740.62L317.6 744.91L319.1 749.26L320.6 753.65L322.1 758.08L323.6 762.55L325.1 767.03L326.6 771.52L328.1 776.01L329.6 780.48L331.1 784.93L332.6 789.34L334.1 793.7L335.6 798L337.1 802.24L338.6 806.4L340.1 810.47L341.6 814.47L343.1 818.37L344.6 822.17L346.1 825.88L347.6 829.49L349.1 833L350.6 836.4L352.1 839.7L353.6 842.9L355.1 846L356.6 848.99L358.1 851.88L359.6 854.66L361.1 857.34L362.6 859.92L364.1 862.4L365.6 864.77L367.1 867.04L368.6 869.21L370.1 871.28L371.6 873.25L373.1 875.12L374.6 876.88L376.1 878.55L377.6 880.12L379.1 881.59L380.6 882.97L382.1 884.25L383.6 885.44L385.1 886.54L386.6 887.55L388.1 888.47L389.6 889.3L391.1 890.05L392.6 890.72L394.1 891.3L395.6 891.81L397.1 892.24L398.6 892.6L400.1 892.9L401.6 893.12L403.1 893.28L404.6 893.37L406.1 893.41L407.6 893.38L409.1 893.31L410.6 893.18L412.1 893.01L413.6 892.79L415.1 892.53L416.6 892.23L418.1 891.9L419.6 891.54L421.1 891.14L422.6 890.73L424.1 890.29L425.6 889.84L427.1 889.37L428.6 888.9L430.1 888.42L431.6 887.94L433.1 887.46L434.6 886.99L436.1 886.53L437.6 886.09L439.1 885.67L440.6 885.27L442.1 884.91L443.6 884.57L445.1 884.28L446.6 884.02L448.1 883.82L449.6 883.66L451.1 883.56L452.6 883.51L454.1 883.53L455.6 883.61L457.1 883.77L458.6 883.99L460.1 884.29L461.6 884.66L463.1 885.12L464.6 885.65L466.1 886.27L467.6 886.97L469.1 887.76L470.6 888.63L472.1 889.58L473.6 890.62L475.1 891.75L476.6 892.95L478.1 894.24L479.6 895.61L481.1 897.05L482.6 898.56L484.1 900.15L485.6 901.8L487.1 903.52L488.6 905.3L490.1 907.13L491.6 909.01L493.1 910.94L494.6 912.91L496.1 914.92L497.6 916.97L499.1 919.04L500.6 921.13L502.1 923.25L503.6 925.38L505.1 927.53L506.6 929.68L508.1 931.84L509.6 934.01L511.1 936.17L512.6 938.34L514.1 940.5L515.6 942.65L517.1 944.81L518.6 946.95L520.1 949.1L521.6 951.23L523.1 953.36L524.6 955.48L526.1 957.6L527.6 959.72L529.1 961.82L530.6 963.93L532.1 966.03L533.6 968.13L535.1 970.23L536.6 972.32L538.1 974.41L539.6 976.5L541.1 978.58L542.6 980.66L544.1 982.73L545.6 984.79L547.1 986.84L548.6 988.88L550.1 990.9L551.6 992.9L553.1 994.89L554.6 996.85L556.1 998.78L557.6 1000.69L559.1 1002.56L560.6 1004.4L562.1 1006.21L563.6 1007.97L565.1 1009.69L566.6 1011.37L568.1 1013L569.6 1014.59L571.1 1016.13L572.6 1017.62L574.1 1019.06L575.6 1020.45L577.1 1021.78L578.6 1023.07L580.1 1024.31L581.6 1025.5L583.1 1026.65L584.6 1027.74L586.1 1028.79L587.6 1029.8L589.1 1030.76L590.6 1031.68L592.1 1032.56L593.6 1033.4L595.1 1034.2L596.6 1034.97L598.1 1035.71L599.6 1036.41L600.7 1036.91L600.7 1052.6L140.6 1052.6Z" fill="#bfbfbf" fill-opacity="0.28"/>
<path d="M140.6 1036.01L142.1 1034.31L143.6 1032.48L145.1 1030.49L146.6 1028.34L148.1 1026.02L149.6 1023.52L151.1 1020.84L152.6 1017.96L154.1 1014.87L155.6 1011.58L157.1 1008.06L158.6 1004.31L160.1 1000.32L161.6 996.09L163.1 991.61L164.6 986.88L166.1 981.88L167.6 976.62L169.1 971.09L170.6 965.29L172.1 959.21L173.6 952.87L175.1 946.25L176.6 939.36L178.1 932.21L179.6 924.79L181.1 917.12L182.6 909.21L184.1 901.05L185.6 892.67L187.1 884.08L188.6 875.28L190.1 866.3L191.6 857.15L193.1 847.85L194.6 838.42L196.1 828.87L197.6 819.24L199.1 809.54L200.6 799.79L202.1 790.02L203.6 780.26L205.1 770.54L206.6 760.86L208.1 751.28L209.6 741.8L211.1 732.45L212.6 723.27L214.1 714.28L215.6 705.49L217.1 696.94L218.6 688.65L220.1 680.65L221.6 672.94L223.1 665.55L224.6 658.51L226.1 651.82L227.6 645.49L229.1 639.56L230.6 634.01L232.1 628.88L233.6 624.15L235.1 619.84L236.6 615.94L238.1 612.47L239.6 609.43L241.1 606.8L242.6 604.58L244.1 602.77L245.6 601.37L247.1 600.36L248.6 599.73L250.1 599.47L251.6 599.57L253.1 600.01L254.6 600.78L256.1 601.86L257.6 603.25L259.1 604.91L260.6 606.83L262.1 609L263.6 611.39L265.1 614L266.6 616.79L268.1 619.76L269.6 622.88L271.1 626.15L272.6 629.53L274.1 633.02L275.6 636.59L277.1 640.24L278.6 643.95L280.1 647.71L281.6 651.5L283.1 655.31L284.6 659.14L286.1 662.97L287.6 666.79L289.1 670.61L290.6 674.42L292.1 678.21L293.6 682L295.1 685.76L296.6 689.53L298.1 693.28L299.6 697.04L301.1 700.81L302.6 704.6L304.1 708.41L305.6 712.26L307.1 716.14L308.6 720.08L310.1 724.06L311.6 728.11L313.1 732.22L314.6 736.39L316.1 740.62L317.6 744.91L319.1 749.26L320.6 753.65L322.1 758.08L323.6 762.55L325.1 767.03L326.6 771.52L328.1 776.01L329.6 780.48L331.1 784.93L332.6 789.34L334.1 793.7L335.6 798L337.1 802.24L338.6 806.4L340.1 810.47L341.6 814.47L343.1 818.37L344.6 822.17L346.1 825.88L347.6 829.49L349.1 833L350.6 836.4L352.1 839.7L353.6 842.9L355.1 846L356.6 848.99L358.1 851.88L359.6 854.66L361.1 857.34L362.6 859.92L364.1 862.4L365.6 864.77L367.1 867.04L368.6 869.21L370.1 871.28L371.6 873.25L373.1 875.12L374.6 876.88L376.1 878.55L377.6 880.12L379.1 881.59L380.6 882.97L382.1 884.25L383.6 885.44L385.1 886.54L386.6 887.55L388.1 888.47L389.6 889.3L391.1 890.05L392.6 890.72L394.1 891.3L395.6 891.81L397.1 892.24L398.6 892.6L400.1 892.9L401.6 893.12L403.1 893.28L404.6 893.37L406.1 893.41L407.6 893.38L409.1 893.31L410.6 893.18L412.1 893.01L413.6 892.79L415.1 892.53L416.6 892.23L418.1 891.9L419.6 891.54L421.1 891.14L422.6 890.73L424.1 890.29L425.6 889.84L427.1 889.37L428.6 888.9L430.1 888.42L431.6 887.94L433.1 887.46L434.6 886.99L436.1 886.53L437.6 886.09L439.1 885.67L440.6 885.27L442.1 884.91L443.6 884.57L445.1 884.28L446.6 884.02L448.1 883.82L449.6 883.66L451.1 883.56L452.6 883.51L454.1 883.53L455.6 883.61L457.1 883.77L458.6 883.99L460.1 884.29L461.6 884.66L463.1 885.12L464.6 885.65L466.1 886.27L467.6 886.97L469.1 887.76L470.6 888.63L472.1 889.58L473.6 890.62L475.1 891.75L476.6 892.95L478.1 894.24L479.6 895.61L481.1 897.05L482.6 898.56L484.1 900.15L485.6 901.8L487.1 903.52L488.6 905.3L490.1 907.13L491.6 909.01L493.1 910.94L494.6 912.91L496.1 914.92L497.6 916.97L499.1 919.04L500.6 921.13L502.1 923.25L503.6 925.38L505.1 927.53L506.6 929.68L508.1 931.84L509.6 934.01L511.1 936.17L512.6 938.34L514.1 940.5L515.6 942.65L517.1 944.81L518.6 946.95L520.1 949.1L521.6 951.23L523.1 953.36L524.6 955.48L526.1 957.6L527.6 959.72L529.1 961.82L530.6 963.93L532.1 966.03L533.6 968.13L535.1 970.23L536.6 972.32L538.1 974.41L539.6 976.5L541.1 978.58L542.6 980.66L544.1 982.73L545.6 984.79L547.1 986.84L548.6 988.88L550.1 990.9L551.6 992.9L553.1 994.89L554.6 996.85L556.1 998.78L557.6 1000.69L559.1 1002.56L560.6 1004.4L562.1 1006.21L563.6 1007.97L565.1 1009.69L566.6 1011.37L568.1 1013L569.6 1014.59L571.1 1016.13L572.6 1017.62L574.1 1019.06L575.6 1020.45L577.1 1021.78L578.6 1023.07L580.1 1024.31L581.6 1025.5L583.1 1026.65L584.6 1027.74L586.1 1028.79L587.6 1029.8L589.1 1030.76L590.6 1031.68L592.1 1032.56L593.6 1033.4L595.1 1034.2L596.6 1034.97L598.1 1035.71L599.6 1036.41L600.7 1036.91" fill="none" stroke="#c9c9c9" stroke-width="1.2" stroke-linejoin="round"/>
</g>
<path d="M139.65 577H601.65M139.65 1052.6H601.65" fill="none" stroke="#9a9a9a" stroke-width="1.9"/>
<path d="M140.6 577V1052.6M600.7 577V1052.6" fill="none" stroke="#868686" stroke-width="1.5"/>
<path d="M140.6 1052.6v2.4M232.62 1052.6v2.4M324.64 1052.6v2.4M416.66 1052.6v2.4M508.68 1052.6v2.4M600.7 1052.6v2.4M140.6 1052.6h-2.4M140.6 952.9h-2.4M140.6 853.2h-2.4M140.6 753.5h-2.4M140.6 653.8h-2.4" stroke="#4a4a4a" stroke-width="1.2" fill="none"/>
<g font-family='"DejaVu Sans", "Liberation Sans", sans-serif' font-size="8.6" fill="#303030" stroke="#303030" stroke-width="0.3">
<text x="140.6" y="1065.5" text-anchor="middle">0.0</text>
<text x="232.62" y="1065.5" text-anchor="middle">0.2</text>
<text x="324.64" y="1065.5" text-anchor="middle">0.4</text>
<text x="416.66" y="1065.5" text-anchor="middle">0.6</text>
<text x="508.68" y="1065.5" text-anchor="middle">0.8</text>
<text x="600.7" y="1065.5" text-anchor="middle">1.0</text>
<text x="133.2" y="1055.9" text-anchor="end">0.0</text>
<text x="133.2" y="956.2" text-anchor="end">0.5</text>
<text x="133.2" y="856.5" text-anchor="end">1.0</text>
<text x="133.2" y="756.8" text-anchor="end">1.5</text>
<text x="133.2" y="657.1" text-anchor="end">2.0</text>
</g>
<rect x="383" y="581.4" width="213" height="52.6" rx="3" fill="#fff" fill-opacity="0.8" stroke="#cfcfcf" stroke-width="1.5"/>
<rect x="389.7" y="589.6" width="30.3" height="11.2" rx="1.2" fill="#6aa84f" fill-opacity="0.37" stroke="#6aa84f" stroke-width="2.1"/>
<rect x="389.7" y="613.2" width="30.3" height="11.2" rx="1.2" fill="#bfbfbf" fill-opacity="0.28" stroke="#d0d0d0" stroke-width="2.1"/>
<text x="431.4" y="599" font-family='"DejaVu Sans", "Liberation Sans", sans-serif' font-size="15.6" fill="#262626" textLength="130.5" lengthAdjust="spacingAndGlyphs" stroke="#262626" stroke-width="0.35">GoFold TM-score</text>
<text x="431.4" y="623.7" font-family='"DejaVu Sans", "Liberation Sans", sans-serif' font-size="15.6" fill="#262626" textLength="157.5" lengthAdjust="spacingAndGlyphs" stroke="#262626" stroke-width="0.35">map_align TM-score</text>
<clipPath id="clipD"><rect x="711.1" y="573.8" width="460.5" height="478.1"/></clipPath>
<g clip-path="url(#clipD)">
<path d="M711.1 1049.09L712.6 1048.76L714.1 1048.4L715.6 1048L717.1 1047.56L718.6 1047.08L720.1 1046.55L721.6 1045.97L723.1 1045.34L724.6 1044.65L726.1 1043.89L727.6 1043.07L729.1 1042.17L730.6 1041.2L732.1 1040.14L733.6 1038.98L735.1 1037.73L736.6 1036.37L738.1 1034.9L739.6 1033.31L741.1 1031.59L742.6 1029.73L744.1 1027.72L745.6 1025.57L747.1 1023.25L748.6 1020.76L750.1 1018.1L751.6 1015.26L753.1 1012.23L754.6 1009.02L756.1 1005.62L757.6 1002.04L759.1 998.27L760.6 994.32L762.1 990.2L763.6 985.92L765.1 981.49L766.6 976.92L768.1 972.24L769.6 967.44L771.1 962.57L772.6 957.62L774.1 952.62L775.6 947.59L777.1 942.54L778.6 937.49L780.1 932.45L781.6 927.43L783.1 922.44L784.6 917.49L786.1 912.59L787.6 907.72L789.1 902.91L790.6 898.13L792.1 893.4L793.6 888.7L795.1 884.04L796.6 879.4L798.1 874.79L799.6 870.21L801.1 865.64L802.6 861.09L804.1 856.56L805.6 852.05L807.1 847.56L808.6 843.1L810.1 838.67L811.6 834.28L813.1 829.94L814.6 825.64L816.1 821.4L817.6 817.23L819.1 813.13L820.6 809.11L822.1 805.16L823.6 801.31L825.1 797.55L826.6 793.88L828.1 790.3L829.6 786.82L831.1 783.43L832.6 780.12L834.1 776.91L835.6 773.78L837.1 770.72L838.6 767.74L840.1 764.82L841.6 761.95L843.1 759.14L844.6 756.37L846.1 753.62L847.6 750.9L849.1 748.2L850.6 745.5L852.1 742.8L853.6 740.09L855.1 737.37L856.6 734.62L858.1 731.83L859.6 729.02L861.1 726.16L862.6 723.26L864.1 720.3L865.6 717.3L867.1 714.25L868.6 711.14L870.1 707.98L871.6 704.76L873.1 701.5L874.6 698.19L876.1 694.84L877.6 691.44L879.1 688.02L880.6 684.57L882.1 681.09L883.6 677.6L885.1 674.11L886.6 670.62L888.1 667.13L889.6 663.67L891.1 660.23L892.6 656.83L894.1 653.48L895.6 650.18L897.1 646.95L898.6 643.8L900.1 640.73L901.6 637.76L903.1 634.9L904.6 632.17L906.1 629.56L907.6 627.1L909.1 624.8L910.6 622.67L912.1 620.73L913.6 618.99L915.1 617.45L916.6 616.14L918.1 615.06L919.6 614.22L921.1 613.64L922.6 613.31L924.1 613.26L925.6 613.47L927.1 613.96L928.6 614.72L930.1 615.74L931.6 617.03L933.1 618.58L934.6 620.37L936.1 622.39L937.6 624.62L939.1 627.06L940.6 629.68L942.1 632.47L943.6 635.4L945.1 638.46L946.6 641.62L948.1 644.86L949.6 648.17L951.1 651.52L952.6 654.9L954.1 658.29L955.6 661.68L957.1 665.05L958.6 668.38L960.1 671.66L961.6 674.9L963.1 678.06L964.6 681.15L966.1 684.16L967.6 687.07L969.1 689.9L970.6 692.62L972.1 695.25L973.6 697.76L975.1 700.17L976.6 702.47L978.1 704.66L979.6 706.73L981.1 708.7L982.6 710.55L984.1 712.29L985.6 713.92L987.1 715.44L988.6 716.86L990.1 718.18L991.6 719.4L993.1 720.52L994.6 721.55L996.1 722.5L997.6 723.36L999.1 724.15L1000.6 724.86L1002.1 725.51L1003.6 726.1L1005.1 726.64L1006.6 727.13L1008.1 727.58L1009.6 728L1011.1 728.38L1012.6 728.75L1014.1 729.09L1015.6 729.43L1017.1 729.76L1018.6 730.09L1020.1 730.43L1021.6 730.78L1023.1 731.15L1024.6 731.53L1026.1 731.95L1027.6 732.39L1029.1 732.86L1030.6 733.37L1032.1 733.92L1033.6 734.51L1035.1 735.14L1036.6 735.82L1038.1 736.55L1039.6 737.32L1041.1 738.15L1042.6 739.03L1044.1 739.97L1045.6 740.96L1047.1 742L1048.6 743.1L1050.1 744.25L1051.6 745.46L1053.1 746.73L1054.6 748.06L1056.1 749.44L1057.6 750.89L1059.1 752.39L1060.6 753.96L1062.1 755.59L1063.6 757.28L1065.1 759.04L1066.6 760.86L1068.1 762.76L1069.6 764.72L1071.1 766.75L1072.6 768.87L1074.1 771.05L1075.6 773.32L1077.1 775.67L1078.6 778.11L1080.1 780.63L1081.6 783.24L1083.1 785.95L1084.6 788.75L1086.1 791.65L1087.6 794.65L1089.1 797.75L1090.6 800.96L1092.1 804.27L1093.6 807.68L1095.1 811.21L1096.6 814.83L1098.1 818.57L1099.6 822.41L1101.1 826.35L1102.6 830.39L1104.1 834.53L1105.6 838.77L1107.1 843.1L1108.6 847.52L1110.1 852.02L1111.6 856.6L1113.1 861.24L1114.6 865.96L1116.1 870.73L1117.6 875.56L1119.1 880.43L1120.6 885.33L1122.1 890.26L1123.6 895.21L1125.1 900.17L1126.6 905.13L1128.1 910.09L1129.6 915.03L1131.1 919.94L1132.6 924.82L1134.1 929.66L1135.6 934.44L1137.1 939.17L1138.6 943.83L1140.1 948.42L1141.6 952.92L1143.1 957.34L1144.6 961.67L1146.1 965.9L1147.6 970.02L1149.1 974.03L1150.6 977.94L1152.1 981.72L1153.6 985.39L1155.1 988.94L1156.6 992.36L1158.1 995.66L1159.6 998.84L1161.1 1001.89L1162.6 1004.81L1164.1 1007.61L1165.6 1010.29L1167.1 1012.84L1168.6 1015.28L1170.1 1017.6L1171.6 1019.8L1171.6 1051.9L711.1 1051.9Z" fill="#6aa84f" fill-opacity="0.37"/>
<path d="M711.1 1049.09L712.6 1048.76L714.1 1048.4L715.6 1048L717.1 1047.56L718.6 1047.08L720.1 1046.55L721.6 1045.97L723.1 1045.34L724.6 1044.65L726.1 1043.89L727.6 1043.07L729.1 1042.17L730.6 1041.2L732.1 1040.14L733.6 1038.98L735.1 1037.73L736.6 1036.37L738.1 1034.9L739.6 1033.31L741.1 1031.59L742.6 1029.73L744.1 1027.72L745.6 1025.57L747.1 1023.25L748.6 1020.76L750.1 1018.1L751.6 1015.26L753.1 1012.23L754.6 1009.02L756.1 1005.62L757.6 1002.04L759.1 998.27L760.6 994.32L762.1 990.2L763.6 985.92L765.1 981.49L766.6 976.92L768.1 972.24L769.6 967.44L771.1 962.57L772.6 957.62L774.1 952.62L775.6 947.59L777.1 942.54L778.6 937.49L780.1 932.45L781.6 927.43L783.1 922.44L784.6 917.49L786.1 912.59L787.6 907.72L789.1 902.91L790.6 898.13L792.1 893.4L793.6 888.7L795.1 884.04L796.6 879.4L798.1 874.79L799.6 870.21L801.1 865.64L802.6 861.09L804.1 856.56L805.6 852.05L807.1 847.56L808.6 843.1L810.1 838.67L811.6 834.28L813.1 829.94L814.6 825.64L816.1 821.4L817.6 817.23L819.1 813.13L820.6 809.11L822.1 805.16L823.6 801.31L825.1 797.55L826.6 793.88L828.1 790.3L829.6 786.82L831.1 783.43L832.6 780.12L834.1 776.91L835.6 773.78L837.1 770.72L838.6 767.74L840.1 764.82L841.6 761.95L843.1 759.14L844.6 756.37L846.1 753.62L847.6 750.9L849.1 748.2L850.6 745.5L852.1 742.8L853.6 740.09L855.1 737.37L856.6 734.62L858.1 731.83L859.6 729.02L861.1 726.16L862.6 723.26L864.1 720.3L865.6 717.3L867.1 714.25L868.6 711.14L870.1 707.98L871.6 704.76L873.1 701.5L874.6 698.19L876.1 694.84L877.6 691.44L879.1 688.02L880.6 684.57L882.1 681.09L883.6 677.6L885.1 674.11L886.6 670.62L888.1 667.13L889.6 663.67L891.1 660.23L892.6 656.83L894.1 653.48L895.6 650.18L897.1 646.95L898.6 643.8L900.1 640.73L901.6 637.76L903.1 634.9L904.6 632.17L906.1 629.56L907.6 627.1L909.1 624.8L910.6 622.67L912.1 620.73L913.6 618.99L915.1 617.45L916.6 616.14L918.1 615.06L919.6 614.22L921.1 613.64L922.6 613.31L924.1 613.26L925.6 613.47L927.1 613.96L928.6 614.72L930.1 615.74L931.6 617.03L933.1 618.58L934.6 620.37L936.1 622.39L937.6 624.62L939.1 627.06L940.6 629.68L942.1 632.47L943.6 635.4L945.1 638.46L946.6 641.62L948.1 644.86L949.6 648.17L951.1 651.52L952.6 654.9L954.1 658.29L955.6 661.68L957.1 665.05L958.6 668.38L960.1 671.66L961.6 674.9L963.1 678.06L964.6 681.15L966.1 684.16L967.6 687.07L969.1 689.9L970.6 692.62L972.1 695.25L973.6 697.76L975.1 700.17L976.6 702.47L978.1 704.66L979.6 706.73L981.1 708.7L982.6 710.55L984.1 712.29L985.6 713.92L987.1 715.44L988.6 716.86L990.1 718.18L991.6 719.4L993.1 720.52L994.6 721.55L996.1 722.5L997.6 723.36L999.1 724.15L1000.6 724.86L1002.1 725.51L1003.6 726.1L1005.1 726.64L1006.6 727.13L1008.1 727.58L1009.6 728L1011.1 728.38L1012.6 728.75L1014.1 729.09L1015.6 729.43L1017.1 729.76L1018.6 730.09L1020.1 730.43L1021.6 730.78L1023.1 731.15L1024.6 731.53L1026.1 731.95L1027.6 732.39L1029.1 732.86L1030.6 733.37L1032.1 733.92L1033.6 734.51L1035.1 735.14L1036.6 735.82L1038.1 736.55L1039.6 737.32L1041.1 738.15L1042.6 739.03L1044.1 739.97L1045.6 740.96L1047.1 742L1048.6 743.1L1050.1 744.25L1051.6 745.46L1053.1 746.73L1054.6 748.06L1056.1 749.44L1057.6 750.89L1059.1 752.39L1060.6 753.96L1062.1 755.59L1063.6 757.28L1065.1 759.04L1066.6 760.86L1068.1 762.76L1069.6 764.72L1071.1 766.75L1072.6 768.87L1074.1 771.05L1075.6 773.32L1077.1 775.67L1078.6 778.11L1080.1 780.63L1081.6 783.24L1083.1 785.95L1084.6 788.75L1086.1 791.65L1087.6 794.65L1089.1 797.75L1090.6 800.96L1092.1 804.27L1093.6 807.68L1095.1 811.21L1096.6 814.83L1098.1 818.57L1099.6 822.41L1101.1 826.35L1102.6 830.39L1104.1 834.53L1105.6 838.77L1107.1 843.1L1108.6 847.52L1110.1 852.02L1111.6 856.6L1113.1 861.24L1114.6 865.96L1116.1 870.73L1117.6 875.56L1119.1 880.43L1120.6 885.33L1122.1 890.26L1123.6 895.21L1125.1 900.17L1126.6 905.13L1128.1 910.09L1129.6 915.03L1131.1 919.94L1132.6 924.82L1134.1 929.66L1135.6 934.44L1137.1 939.17L1138.6 943.83L1140.1 948.42L1141.6 952.92L1143.1 957.34L1144.6 961.67L1146.1 965.9L1147.6 970.02L1149.1 974.03L1150.6 977.94L1152.1 981.72L1153.6 985.39L1155.1 988.94L1156.6 992.36L1158.1 995.66L1159.6 998.84L1161.1 1001.89L1162.6 1004.81L1164.1 1007.61L1165.6 1010.29L1167.1 1012.84L1168.6 1015.28L1170.1 1017.6L1171.6 1019.8" fill="none" stroke="#70ab5a" stroke-width="1.7" stroke-linejoin="round"/>
<path d="M711.1 1045.61L712.6 1045.09L714.1 1044.53L715.6 1043.93L717.1 1043.28L718.6 1042.58L720.1 1041.81L721.6 1040.99L723.1 1040.09L724.6 1039.12L726.1 1038.05L727.6 1036.89L729.1 1035.62L730.6 1034.23L732.1 1032.71L733.6 1031.03L735.1 1029.2L736.6 1027.19L738.1 1024.98L739.6 1022.56L741.1 1019.92L742.6 1017.04L744.1 1013.91L745.6 1010.52L747.1 1006.85L748.6 1002.91L750.1 998.7L751.6 994.21L753.1 989.46L754.6 984.45L756.1 979.21L757.6 973.75L759.1 968.1L760.6 962.29L762.1 956.33L763.6 950.26L765.1 944.11L766.6 937.89L768.1 931.63L769.6 925.35L771.1 919.06L772.6 912.75L774.1 906.44L775.6 900.09L777.1 893.71L778.6 887.27L780.1 880.74L781.6 874.09L783.1 867.3L784.6 860.34L786.1 853.18L787.6 845.8L789.1 838.19L790.6 830.35L792.1 822.28L793.6 813.99L795.1 805.51L796.6 796.86L798.1 788.1L799.6 779.25L801.1 770.38L802.6 761.52L804.1 752.73L805.6 744.06L807.1 735.55L808.6 727.23L810.1 719.15L811.6 711.31L813.1 703.74L814.6 696.46L816.1 689.45L817.6 682.72L819.1 676.27L820.6 670.09L822.1 664.17L823.6 658.51L825.1 653.08L826.6 647.89L828.1 642.94L829.6 638.22L831.1 633.73L832.6 629.48L834.1 625.46L835.6 621.69L837.1 618.17L838.6 614.91L840.1 611.91L841.6 609.18L843.1 606.72L844.6 604.52L846.1 602.6L847.6 600.95L849.1 599.56L850.6 598.43L852.1 597.55L853.6 596.91L855.1 596.5L856.6 596.32L858.1 596.34L859.6 596.56L861.1 596.97L862.6 597.56L864.1 598.32L865.6 599.23L867.1 600.29L868.6 601.49L870.1 602.83L871.6 604.29L873.1 605.88L874.6 607.58L876.1 609.39L877.6 611.32L879.1 613.35L880.6 615.48L882.1 617.72L883.6 620.06L885.1 622.5L886.6 625.03L888.1 627.66L889.6 630.39L891.1 633.21L892.6 636.12L894.1 639.12L895.6 642.21L897.1 645.38L898.6 648.63L900.1 651.95L901.6 655.35L903.1 658.81L904.6 662.34L906.1 665.92L907.6 669.55L909.1 673.22L910.6 676.93L912.1 680.66L913.6 684.42L915.1 688.2L916.6 691.98L918.1 695.76L919.6 699.53L921.1 703.28L922.6 707.01L924.1 710.71L925.6 714.37L927.1 717.99L928.6 721.54L930.1 725.04L931.6 728.47L933.1 731.83L934.6 735.1L936.1 738.29L937.6 741.39L939.1 744.39L940.6 747.3L942.1 750.09L943.6 752.79L945.1 755.37L946.6 757.83L948.1 760.18L949.6 762.42L951.1 764.53L952.6 766.53L954.1 768.41L955.6 770.17L957.1 771.81L958.6 773.33L960.1 774.74L961.6 776.03L963.1 777.21L964.6 778.29L966.1 779.25L967.6 780.12L969.1 780.88L970.6 781.56L972.1 782.14L973.6 782.63L975.1 783.04L976.6 783.38L978.1 783.64L979.6 783.83L981.1 783.97L982.6 784.05L984.1 784.07L985.6 784.06L987.1 784L988.6 783.91L990.1 783.78L991.6 783.64L993.1 783.47L994.6 783.3L996.1 783.11L997.6 782.92L999.1 782.73L1000.6 782.55L1002.1 782.37L1003.6 782.21L1005.1 782.07L1006.6 781.94L1008.1 781.85L1009.6 781.77L1011.1 781.73L1012.6 781.72L1014.1 781.75L1015.6 781.81L1017.1 781.91L1018.6 782.05L1020.1 782.23L1021.6 782.45L1023.1 782.72L1024.6 783.02L1026.1 783.37L1027.6 783.76L1029.1 784.19L1030.6 784.66L1032.1 785.18L1033.6 785.73L1035.1 786.33L1036.6 786.96L1038.1 787.63L1039.6 788.34L1041.1 789.08L1042.6 789.86L1044.1 790.67L1045.6 791.52L1047.1 792.4L1048.6 793.31L1050.1 794.25L1051.6 795.23L1053.1 796.24L1054.6 797.28L1056.1 798.35L1057.6 799.46L1059.1 800.61L1060.6 801.79L1062.1 803.01L1063.6 804.26L1065.1 805.57L1066.6 806.91L1068.1 808.3L1069.6 809.74L1071.1 811.24L1072.6 812.79L1074.1 814.39L1075.6 816.06L1077.1 817.79L1078.6 819.59L1080.1 821.46L1081.6 823.4L1083.1 825.41L1084.6 827.5L1086.1 829.67L1087.6 831.92L1089.1 834.24L1090.6 836.64L1092.1 839.13L1093.6 841.69L1095.1 844.33L1096.6 847.05L1098.1 849.84L1099.6 852.71L1101.1 855.65L1102.6 858.65L1104.1 861.73L1105.6 864.88L1107.1 868.1L1108.6 871.39L1110.1 874.74L1111.6 878.17L1113.1 881.67L1114.6 885.24L1116.1 888.88L1117.6 892.6L1119.1 896.39L1120.6 900.26L1122.1 904.2L1123.6 908.21L1125.1 912.28L1126.6 916.42L1128.1 920.6L1129.6 924.84L1131.1 929.1L1132.6 933.39L1134.1 937.69L1135.6 941.99L1137.1 946.27L1138.6 950.52L1140.1 954.72L1141.6 958.88L1143.1 962.96L1144.6 966.96L1146.1 970.88L1147.6 974.7L1149.1 978.42L1150.6 982.02L1152.1 985.52L1153.6 988.89L1155.1 992.15L1156.6 995.29L1158.1 998.31L1159.6 1001.21L1161.1 1003.99L1162.6 1006.65L1164.1 1009.2L1165.6 1011.64L1167.1 1013.97L1168.6 1016.19L1170.1 1018.3L1171.6 1020.32L1171.6 1051.9L711.1 1051.9Z" fill="#bfbfbf" fill-opacity="0.28"/>
<path d="M711.1 1045.61L712.6 1045.09L714.1 1044.53L715.6 1043.93L717.1 1043.28L718.6 1042.58L720.1 1041.81L721.6 1040.99L723.1 1040.09L724.6 1039.12L726.1 1038.05L727.6 1036.89L729.1 1035.62L730.6 1034.23L732.1 1032.71L733.6 1031.03L735.1 1029.2L736.6 1027.19L738.1 1024.98L739.6 1022.56L741.1 1019.92L742.6 1017.04L744.1 1013.91L745.6 1010.52L747.1 1006.85L748.6 1002.91L750.1 998.7L751.6 994.21L753.1 989.46L754.6 984.45L756.1 979.21L757.6 973.75L759.1 968.1L760.6 962.29L762.1 956.33L763.6 950.26L765.1 944.11L766.6 937.89L768.1 931.63L769.6 925.35L771.1 919.06L772.6 912.75L774.1 906.44L775.6 900.09L777.1 893.71L778.6 887.27L780.1 880.74L781.6 874.09L783.1 867.3L784.6 860.34L786.1 853.18L787.6 845.8L789.1 838.19L790.6 830.35L792.1 822.28L793.6 813.99L795.1 805.51L796.6 796.86L798.1 788.1L799.6 779.25L801.1 770.38L802.6 761.52L804.1 752.73L805.6 744.06L807.1 735.55L808.6 727.23L810.1 719.15L811.6 711.31L813.1 703.74L814.6 696.46L816.1 689.45L817.6 682.72L819.1 676.27L820.6 670.09L822.1 664.17L823.6 658.51L825.1 653.08L826.6 647.89L828.1 642.94L829.6 638.22L831.1 633.73L832.6 629.48L834.1 625.46L835.6 621.69L837.1 618.17L838.6 614.91L840.1 611.91L841.6 609.18L843.1 606.72L844.6 604.52L846.1 602.6L847.6 600.95L849.1 599.56L850.6 598.43L852.1 597.55L853.6 596.91L855.1 596.5L856.6 596.32L858.1 596.34L859.6 596.56L861.1 596.97L862.6 597.56L864.1 598.32L865.6 599.23L867.1 600.29L868.6 601.49L870.1 602.83L871.6 604.29L873.1 605.88L874.6 607.58L876.1 609.39L877.6 611.32L879.1 613.35L880.6 615.48L882.1 617.72L883.6 620.06L885.1 622.5L886.6 625.03L888.1 627.66L889.6 630.39L891.1 633.21L892.6 636.12L894.1 639.12L895.6 642.21L897.1 645.38L898.6 648.63L900.1 651.95L901.6 655.35L903.1 658.81L904.6 662.34L906.1 665.92L907.6 669.55L909.1 673.22L910.6 676.93L912.1 680.66L913.6 684.42L915.1 688.2L916.6 691.98L918.1 695.76L919.6 699.53L921.1 703.28L922.6 707.01L924.1 710.71L925.6 714.37L927.1 717.99L928.6 721.54L930.1 725.04L931.6 728.47L933.1 731.83L934.6 735.1L936.1 738.29L937.6 741.39L939.1 744.39L940.6 747.3L942.1 750.09L943.6 752.79L945.1 755.37L946.6 757.83L948.1 760.18L949.6 762.42L951.1 764.53L952.6 766.53L954.1 768.41L955.6 770.17L957.1 771.81L958.6 773.33L960.1 774.74L961.6 776.03L963.1 777.21L964.6 778.29L966.1 779.25L967.6 780.12L969.1 780.88L970.6 781.56L972.1 782.14L973.6 782.63L975.1 783.04L976.6 783.38L978.1 783.64L979.6 783.83L981.1 783.97L982.6 784.05L984.1 784.07L985.6 784.06L987.1 784L988.6 783.91L990.1 783.78L991.6 783.64L993.1 783.47L994.6 783.3L996.1 783.11L997.6 782.92L999.1 782.73L1000.6 782.55L1002.1 782.37L1003.6 782.21L1005.1 782.07L1006.6 781.94L1008.1 781.85L1009.6 781.77L1011.1 781.73L1012.6 781.72L1014.1 781.75L1015.6 781.81L1017.1 781.91L1018.6 782.05L1020.1 782.23L1021.6 782.45L1023.1 782.72L1024.6 783.02L1026.1 783.37L1027.6 783.76L1029.1 784.19L1030.6 784.66L1032.1 785.18L1033.6 785.73L1035.1 786.33L1036.6 786.96L1038.1 787.63L1039.6 788.34L1041.1 789.08L1042.6 789.86L1044.1 790.67L1045.6 791.52L1047.1 792.4L1048.6 793.31L1050.1 794.25L1051.6 795.23L1053.1 796.24L1054.6 797.28L1056.1 798.35L1057.6 799.46L1059.1 800.61L1060.6 801.79L1062.1 803.01L1063.6 804.26L1065.1 805.57L1066.6 806.91L1068.1 808.3L1069.6 809.74L1071.1 811.24L1072.6 812.79L1074.1 814.39L1075.6 816.06L1077.1 817.79L1078.6 819.59L1080.1 821.46L1081.6 823.4L1083.1 825.41L1084.6 827.5L1086.1 829.67L1087.6 831.92L1089.1 834.24L1090.6 836.64L1092.1 839.13L1093.6 841.69L1095.1 844.33L1096.6 847.05L1098.1 849.84L1099.6 852.71L1101.1 855.65L1102.6 858.65L1104.1 861.73L1105.6 864.88L1107.1 868.1L1108.6 871.39L1110.1 874.74L1111.6 878.17L1113.1 881.67L1114.6 885.24L1116.1 888.88L1117.6 892.6L1119.1 896.39L1120.6 900.26L1122.1 904.2L1123.6 908.21L1125.1 912.28L1126.6 916.42L1128.1 920.6L1129.6 924.84L1131.1 929.1L1132.6 933.39L1134.1 937.69L1135.6 941.99L1137.1 946.27L1138.6 950.52L1140.1 954.72L1141.6 958.88L1143.1 962.96L1144.6 966.96L1146.1 970.88L1147.6 974.7L1149.1 978.42L1150.6 982.02L1152.1 985.52L1153.6 988.89L1155.1 992.15L1156.6 995.29L1158.1 998.31L1159.6 1001.21L1161.1 1003.99L1162.6 1006.65L1164.1 1009.2L1165.6 1011.64L1167.1 1013.97L1168.6 1016.19L1170.1 1018.3L1171.6 1020.32" fill="none" stroke="#c9c9c9" stroke-width="1.2" stroke-linejoin="round"/>
</g>
<path d="M710.15 573.8H949M1169 573.8H1172.55M710.15 1051.9H1172.55" fill="none" stroke="#9a9a9a" stroke-width="1.9"/>
<path d="M711.1 573.8V1051.9M1171.6 573.8V1051.9" fill="none" stroke="#868686" stroke-width="1.5"/>
<path d="M711.1 1051.9v2.4M803.2 1051.9v2.4M895.3 1051.9v2.4M987.4 1051.9v2.4M1079.5 1051.9v2.4M1171.6 1051.9v2.4M711.1 1051.9h-2.4M711.1 989.48h-2.4M711.1 927.05h-2.4M711.1 864.63h-2.4M711.1 802.2h-2.4M711.1 739.78h-2.4M711.1 677.35h-2.4M711.1 614.93h-2.4" stroke="#4a4a4a" stroke-width="1.2" fill="none"/>
<g font-family='"DejaVu Sans", "Liberation Sans", sans-serif' font-size="8.6" fill="#303030" stroke="#303030" stroke-width="0.3">
<text x="711.1" y="1064.8" text-anchor="middle">0.0</text>
<text x="803.2" y="1064.8" text-anchor="middle">0.2</text>
<text x="895.3" y="1064.8" text-anchor="middle">0.4</text>
<text x="987.4" y="1064.8" text-anchor="middle">0.6</text>
<text x="1079.5" y="1064.8" text-anchor="middle">0.8</text>
<text x="1171.6" y="1064.8" text-anchor="middle">1.0</text>
<text x="703.7" y="1055.2" text-anchor="end">0.00</text>
<text x="703.7" y="992.78" text-anchor="end">0.25</text>
<text x="703.7" y="930.35" text-anchor="end">0.50</text>
<text x="703.7" y="867.93" text-anchor="end">0.75</text>
<text x="703.7" y="805.5" text-anchor="end">1.00</text>
<text x="703.7" y="743.08" text-anchor="end">1.25</text>
<text x="703.7" y="680.65" text-anchor="end">1.50</text>
<text x="703.7" y="618.23" text-anchor="end">1.75</text>
</g>
<rect x="951.9" y="576.1" width="213.5" height="52.5" rx="3" fill="#fff" fill-opacity="0.8" stroke="#cfcfcf" stroke-width="1.5"/>
<rect x="958.6" y="584.3" width="31" height="11.2" rx="1.2" fill="#6aa84f" fill-opacity="0.37" stroke="#6aa84f" stroke-width="2.1"/>
<rect x="958.6" y="607.9" width="31" height="11.2" rx="1.2" fill="#bfbfbf" fill-opacity="0.28" stroke="#d0d0d0" stroke-width="2.1"/>
<text x="1001.3" y="593.7" font-family='"DejaVu Sans", "Liberation Sans", sans-serif' font-size="15.6" fill="#262626" textLength="130.5" lengthAdjust="spacingAndGlyphs" stroke="#262626" stroke-width="0.35">GoFold TM-score</text>
<text x="1001.3" y="618.4" font-family='"DejaVu Sans", "Liberation Sans", sans-serif' font-size="15.6" fill="#262626" textLength="157.5" lengthAdjust="spacingAndGlyphs" stroke="#262626" stroke-width="0.35">map_align TM-score</text>
<clipPath id="clipF"><rect x="1296.2" y="575.1" width="456" height="475.5"/></clipPath>
<g clip-path="url(#clipF)">
<path d="M1296.2 1048.13L1297.7 1047.79L1299.2 1047.42L1300.7 1047L1302.2 1046.54L1303.7 1046.02L1305.2 1045.46L1306.7 1044.84L1308.2 1044.16L1309.7 1043.42L1311.2 1042.61L1312.7 1041.74L1314.2 1040.79L1315.7 1039.77L1317.2 1038.68L1318.7 1037.51L1320.2 1036.25L1321.7 1034.91L1323.2 1033.49L1324.7 1031.98L1326.2 1030.37L1327.7 1028.67L1329.2 1026.87L1330.7 1024.98L1332.2 1022.98L1333.7 1020.88L1335.2 1018.67L1336.7 1016.35L1338.2 1013.92L1339.7 1011.38L1341.2 1008.74L1342.7 1005.98L1344.2 1003.12L1345.7 1000.15L1347.2 997.09L1348.7 993.92L1350.2 990.67L1351.7 987.34L1353.2 983.93L1354.7 980.45L1356.2 976.91L1357.7 973.33L1359.2 969.71L1360.7 966.06L1362.2 962.4L1363.7 958.73L1365.2 955.07L1366.7 951.44L1368.2 947.84L1369.7 944.29L1371.2 940.79L1372.7 937.36L1374.2 934.02L1375.7 930.76L1377.2 927.61L1378.7 924.57L1380.2 921.64L1381.7 918.84L1383.2 916.17L1384.7 913.64L1386.2 911.24L1387.7 908.99L1389.2 906.88L1390.7 904.91L1392.2 903.08L1393.7 901.39L1395.2 899.83L1396.7 898.39L1398.2 897.07L1399.7 895.85L1401.2 894.73L1402.7 893.7L1404.2 892.74L1405.7 891.83L1407.2 890.97L1408.7 890.14L1410.2 889.31L1411.7 888.48L1413.2 887.63L1414.7 886.74L1416.2 885.79L1417.7 884.76L1419.2 883.64L1420.7 882.4L1422.2 881.04L1423.7 879.54L1425.2 877.87L1426.7 876.03L1428.2 874.01L1429.7 871.78L1431.2 869.35L1432.7 866.69L1434.2 863.81L1435.7 860.68L1437.2 857.32L1438.7 853.71L1440.2 849.85L1441.7 845.75L1443.2 841.39L1444.7 836.78L1446.2 831.94L1447.7 826.85L1449.2 821.54L1450.7 816L1452.2 810.25L1453.7 804.3L1455.2 798.16L1456.7 791.84L1458.2 785.37L1459.7 778.75L1461.2 772L1462.7 765.13L1464.2 758.18L1465.7 751.15L1467.2 744.07L1468.7 736.96L1470.2 729.83L1471.7 722.71L1473.2 715.61L1474.7 708.57L1476.2 701.6L1477.7 694.71L1479.2 687.93L1480.7 681.29L1482.2 674.79L1483.7 668.46L1485.2 662.32L1486.7 656.38L1488.2 650.66L1489.7 645.18L1491.2 639.94L1492.7 634.96L1494.2 630.27L1495.7 625.85L1497.2 621.73L1498.7 617.92L1500.2 614.42L1501.7 611.23L1503.2 608.37L1504.7 605.84L1506.2 603.63L1507.7 601.76L1509.2 600.21L1510.7 598.99L1512.2 598.1L1513.7 597.53L1515.2 597.29L1516.7 597.35L1518.2 597.72L1519.7 598.4L1521.2 599.37L1522.7 600.62L1524.2 602.15L1525.7 603.95L1527.2 606.01L1528.7 608.32L1530.2 610.86L1531.7 613.63L1533.2 616.62L1534.7 619.81L1536.2 623.19L1537.7 626.75L1539.2 630.48L1540.7 634.36L1542.2 638.39L1543.7 642.53L1545.2 646.79L1546.7 651.15L1548.2 655.59L1549.7 660.09L1551.2 664.65L1552.7 669.24L1554.2 673.84L1555.7 678.45L1557.2 683.04L1558.7 687.59L1560.2 692.1L1561.7 696.53L1563.2 700.87L1564.7 705.12L1566.2 709.24L1567.7 713.22L1569.2 717.06L1570.7 720.72L1572.2 724.21L1573.7 727.51L1575.2 730.6L1576.7 733.47L1578.2 736.13L1579.7 738.55L1581.2 740.74L1582.7 742.69L1584.2 744.39L1585.7 745.85L1587.2 747.07L1588.7 748.05L1590.2 748.8L1591.7 749.32L1593.2 749.61L1594.7 749.69L1596.2 749.57L1597.7 749.25L1599.2 748.76L1600.7 748.1L1602.2 747.29L1603.7 746.35L1605.2 745.29L1606.7 744.12L1608.2 742.87L1609.7 741.55L1611.2 740.19L1612.7 738.79L1614.2 737.37L1615.7 735.96L1617.2 734.57L1618.7 733.21L1620.2 731.91L1621.7 730.68L1623.2 729.54L1624.7 728.5L1626.2 727.56L1627.7 726.76L1629.2 726.1L1630.7 725.59L1632.2 725.24L1633.7 725.06L1635.2 725.06L1636.7 725.25L1638.2 725.63L1639.7 726.21L1641.2 726.99L1642.7 727.98L1644.2 729.18L1645.7 730.59L1647.2 732.2L1648.7 734.03L1650.2 736.06L1651.7 738.3L1653.2 740.74L1654.7 743.37L1656.2 746.19L1657.7 749.2L1659.2 752.38L1660.7 755.73L1662.2 759.25L1663.7 762.92L1665.2 766.73L1666.7 770.67L1668.2 774.74L1669.7 778.93L1671.2 783.22L1672.7 787.61L1674.2 792.08L1675.7 796.63L1677.2 801.25L1678.7 805.92L1680.2 810.64L1681.7 815.4L1683.2 820.19L1684.7 825L1686.2 829.83L1687.7 834.66L1689.2 839.5L1690.7 844.33L1692.2 849.16L1693.7 853.96L1695.2 858.75L1696.7 863.52L1698.2 868.26L1699.7 872.97L1701.2 877.64L1702.7 882.29L1704.2 886.89L1705.7 891.46L1707.2 895.99L1708.7 900.48L1710.2 904.93L1711.7 909.34L1713.2 913.7L1714.7 918.02L1716.2 922.29L1717.7 926.53L1719.2 930.71L1720.7 934.85L1722.2 938.94L1723.7 942.98L1725.2 946.97L1726.7 950.9L1728.2 954.78L1729.7 958.61L1731.2 962.37L1732.7 966.08L1734.2 969.72L1735.7 973.29L1737.2 976.8L1738.7 980.23L1740.2 983.59L1741.7 986.87L1743.2 990.08L1744.7 993.19L1746.2 996.23L1747.7 999.18L1749.2 1002.03L1750.7 1004.8L1752.2 1007.47L1752.2 1050.6L1296.2 1050.6Z" fill="#6aa84f" fill-opacity="0.37"/>
<path d="M1296.2 1048.13L1297.7 1047.79L1299.2 1047.42L1300.7 1047L1302.2 1046.54L1303.7 1046.02L1305.2 1045.46L1306.7 1044.84L1308.2 1044.16L1309.7 1043.42L1311.2 1042.61L1312.7 1041.74L1314.2 1040.79L1315.7 1039.77L1317.2 1038.68L1318.7 1037.51L1320.2 1036.25L1321.7 1034.91L1323.2 1033.49L1324.7 1031.98L1326.2 1030.37L1327.7 1028.67L1329.2 1026.87L1330.7 1024.98L1332.2 1022.98L1333.7 1020.88L1335.2 1018.67L1336.7 1016.35L1338.2 1013.92L1339.7 1011.38L1341.2 1008.74L1342.7 1005.98L1344.2 1003.12L1345.7 1000.15L1347.2 997.09L1348.7 993.92L1350.2 990.67L1351.7 987.34L1353.2 983.93L1354.7 980.45L1356.2 976.91L1357.7 973.33L1359.2 969.71L1360.7 966.06L1362.2 962.4L1363.7 958.73L1365.2 955.07L1366.7 951.44L1368.2 947.84L1369.7 944.29L1371.2 940.79L1372.7 937.36L1374.2 934.02L1375.7 930.76L1377.2 927.61L1378.7 924.57L1380.2 921.64L1381.7 918.84L1383.2 916.17L1384.7 913.64L1386.2 911.24L1387.7 908.99L1389.2 906.88L1390.7 904.91L1392.2 903.08L1393.7 901.39L1395.2 899.83L1396.7 898.39L1398.2 897.07L1399.7 895.85L1401.2 894.73L1402.7 893.7L1404.2 892.74L1405.7 891.83L1407.2 890.97L1408.7 890.14L1410.2 889.31L1411.7 888.48L1413.2 887.63L1414.7 886.74L1416.2 885.79L1417.7 884.76L1419.2 883.64L1420.7 882.4L1422.2 881.04L1423.7 879.54L1425.2 877.87L1426.7 876.03L1428.2 874.01L1429.7 871.78L1431.2 869.35L1432.7 866.69L1434.2 863.81L1435.7 860.68L1437.2 857.32L1438.7 853.71L1440.2 849.85L1441.7 845.75L1443.2 841.39L1444.7 836.78L1446.2 831.94L1447.7 826.85L1449.2 821.54L1450.7 816L1452.2 810.25L1453.7 804.3L1455.2 798.16L1456.7 791.84L1458.2 785.37L1459.7 778.75L1461.2 772L1462.7 765.13L1464.2 758.18L1465.7 751.15L1467.2 744.07L1468.7 736.96L1470.2 729.83L1471.7 722.71L1473.2 715.61L1474.7 708.57L1476.2 701.6L1477.7 694.71L1479.2 687.93L1480.7 681.29L1482.2 674.79L1483.7 668.46L1485.2 662.32L1486.7 656.38L1488.2 650.66L1489.7 645.18L1491.2 639.94L1492.7 634.96L1494.2 630.27L1495.7 625.85L1497.2 621.73L1498.7 617.92L1500.2 614.42L1501.7 611.23L1503.2 608.37L1504.7 605.84L1506.2 603.63L1507.7 601.76L1509.2 600.21L1510.7 598.99L1512.2 598.1L1513.7 597.53L1515.2 597.29L1516.7 597.35L1518.2 597.72L1519.7 598.4L1521.2 599.37L1522.7 600.62L1524.2 602.15L1525.7 603.95L1527.2 606.01L1528.7 608.32L1530.2 610.86L1531.7 613.63L1533.2 616.62L1534.7 619.81L1536.2 623.19L1537.7 626.75L1539.2 630.48L1540.7 634.36L1542.2 638.39L1543.7 642.53L1545.2 646.79L1546.7 651.15L1548.2 655.59L1549.7 660.09L1551.2 664.65L1552.7 669.24L1554.2 673.84L1555.7 678.45L1557.2 683.04L1558.7 687.59L1560.2 692.1L1561.7 696.53L1563.2 700.87L1564.7 705.12L1566.2 709.24L1567.7 713.22L1569.2 717.06L1570.7 720.72L1572.2 724.21L1573.7 727.51L1575.2 730.6L1576.7 733.47L1578.2 736.13L1579.7 738.55L1581.2 740.74L1582.7 742.69L1584.2 744.39L1585.7 745.85L1587.2 747.07L1588.7 748.05L1590.2 748.8L1591.7 749.32L1593.2 749.61L1594.7 749.69L1596.2 749.57L1597.7 749.25L1599.2 748.76L1600.7 748.1L1602.2 747.29L1603.7 746.35L1605.2 745.29L1606.7 744.12L1608.2 742.87L1609.7 741.55L1611.2 740.19L1612.7 738.79L1614.2 737.37L1615.7 735.96L1617.2 734.57L1618.7 733.21L1620.2 731.91L1621.7 730.68L1623.2 729.54L1624.7 728.5L1626.2 727.56L1627.7 726.76L1629.2 726.1L1630.7 725.59L1632.2 725.24L1633.7 725.06L1635.2 725.06L1636.7 725.25L1638.2 725.63L1639.7 726.21L1641.2 726.99L1642.7 727.98L1644.2 729.18L1645.7 730.59L1647.2 732.2L1648.7 734.03L1650.2 736.06L1651.7 738.3L1653.2 740.74L1654.7 743.37L1656.2 746.19L1657.7 749.2L1659.2 752.38L1660.7 755.73L1662.2 759.25L1663.7 762.92L1665.2 766.73L1666.7 770.67L1668.2 774.74L1669.7 778.93L1671.2 783.22L1672.7 787.61L1674.2 792.08L1675.7 796.63L1677.2 801.25L1678.7 805.92L1680.2 810.64L1681.7 815.4L1683.2 820.19L1684.7 825L1686.2 829.83L1687.7 834.66L1689.2 839.5L1690.7 844.33L1692.2 849.16L1693.7 853.96L1695.2 858.75L1696.7 863.52L1698.2 868.26L1699.7 872.97L1701.2 877.64L1702.7 882.29L1704.2 886.89L1705.7 891.46L1707.2 895.99L1708.7 900.48L1710.2 904.93L1711.7 909.34L1713.2 913.7L1714.7 918.02L1716.2 922.29L1717.7 926.53L1719.2 930.71L1720.7 934.85L1722.2 938.94L1723.7 942.98L1725.2 946.97L1726.7 950.9L1728.2 954.78L1729.7 958.61L1731.2 962.37L1732.7 966.08L1734.2 969.72L1735.7 973.29L1737.2 976.8L1738.7 980.23L1740.2 983.59L1741.7 986.87L1743.2 990.08L1744.7 993.19L1746.2 996.23L1747.7 999.18L1749.2 1002.03L1750.7 1004.8L1752.2 1007.47" fill="none" stroke="#70ab5a" stroke-width="1.7" stroke-linejoin="round"/>
<path d="M1296.2 1042.13L1297.7 1041.5L1299.2 1040.82L1300.7 1040.09L1302.2 1039.31L1303.7 1038.47L1305.2 1037.57L1306.7 1036.61L1308.2 1035.58L1309.7 1034.48L1311.2 1033.28L1312.7 1032L1314.2 1030.62L1315.7 1029.12L1317.2 1027.51L1318.7 1025.76L1320.2 1023.87L1321.7 1021.82L1323.2 1019.59L1324.7 1017.19L1326.2 1014.58L1327.7 1011.76L1329.2 1008.71L1330.7 1005.43L1332.2 1001.9L1333.7 998.13L1335.2 994.1L1336.7 989.81L1338.2 985.28L1339.7 980.5L1341.2 975.5L1342.7 970.28L1344.2 964.87L1345.7 959.28L1347.2 953.55L1348.7 947.69L1350.2 941.73L1351.7 935.7L1353.2 929.61L1354.7 923.49L1356.2 917.36L1357.7 911.23L1359.2 905.1L1360.7 898.99L1362.2 892.9L1363.7 886.82L1365.2 880.75L1366.7 874.69L1368.2 868.63L1369.7 862.56L1371.2 856.49L1372.7 850.41L1374.2 844.32L1375.7 838.22L1377.2 832.12L1378.7 826.03L1380.2 819.96L1381.7 813.93L1383.2 807.95L1384.7 802.04L1386.2 796.22L1387.7 790.51L1389.2 784.93L1390.7 779.49L1392.2 774.23L1393.7 769.14L1395.2 764.24L1396.7 759.54L1398.2 755.06L1399.7 750.79L1401.2 746.73L1402.7 742.89L1404.2 739.26L1405.7 735.84L1407.2 732.63L1408.7 729.6L1410.2 726.76L1411.7 724.09L1413.2 721.59L1414.7 719.23L1416.2 717.01L1417.7 714.92L1419.2 712.94L1420.7 711.07L1422.2 709.29L1423.7 707.6L1425.2 705.98L1426.7 704.43L1428.2 702.95L1429.7 701.52L1431.2 700.15L1432.7 698.84L1434.2 697.58L1435.7 696.36L1437.2 695.21L1438.7 694.1L1440.2 693.05L1441.7 692.07L1443.2 691.14L1444.7 690.29L1446.2 689.5L1447.7 688.8L1449.2 688.17L1450.7 687.63L1452.2 687.18L1453.7 686.82L1455.2 686.56L1456.7 686.4L1458.2 686.34L1459.7 686.38L1461.2 686.53L1462.7 686.78L1464.2 687.14L1465.7 687.6L1467.2 688.16L1468.7 688.83L1470.2 689.59L1471.7 690.45L1473.2 691.4L1474.7 692.44L1476.2 693.57L1477.7 694.78L1479.2 696.07L1480.7 697.44L1482.2 698.88L1483.7 700.4L1485.2 701.99L1486.7 703.64L1488.2 705.37L1489.7 707.17L1491.2 709.04L1492.7 710.98L1494.2 712.98L1495.7 715.06L1497.2 717.2L1498.7 719.42L1500.2 721.7L1501.7 724.05L1503.2 726.46L1504.7 728.93L1506.2 731.46L1507.7 734.05L1509.2 736.68L1510.7 739.35L1512.2 742.05L1513.7 744.78L1515.2 747.51L1516.7 750.26L1518.2 752.99L1519.7 755.71L1521.2 758.4L1522.7 761.04L1524.2 763.64L1525.7 766.18L1527.2 768.64L1528.7 771.03L1530.2 773.32L1531.7 775.53L1533.2 777.63L1534.7 779.62L1536.2 781.5L1537.7 783.27L1539.2 784.92L1540.7 786.45L1542.2 787.86L1543.7 789.15L1545.2 790.33L1546.7 791.39L1548.2 792.33L1549.7 793.17L1551.2 793.89L1552.7 794.52L1554.2 795.04L1555.7 795.46L1557.2 795.79L1558.7 796.02L1560.2 796.18L1561.7 796.25L1563.2 796.24L1564.7 796.16L1566.2 796.01L1567.7 795.79L1569.2 795.51L1570.7 795.17L1572.2 794.78L1573.7 794.34L1575.2 793.85L1576.7 793.32L1578.2 792.75L1579.7 792.15L1581.2 791.51L1582.7 790.85L1584.2 790.17L1585.7 789.47L1587.2 788.75L1588.7 788.02L1590.2 787.29L1591.7 786.55L1593.2 785.81L1594.7 785.07L1596.2 784.35L1597.7 783.63L1599.2 782.94L1600.7 782.26L1602.2 781.61L1603.7 780.98L1605.2 780.39L1606.7 779.83L1608.2 779.31L1609.7 778.83L1611.2 778.4L1612.7 778.01L1614.2 777.69L1615.7 777.41L1617.2 777.2L1618.7 777.05L1620.2 776.97L1621.7 776.96L1623.2 777.02L1624.7 777.15L1626.2 777.36L1627.7 777.66L1629.2 778.04L1630.7 778.5L1632.2 779.05L1633.7 779.7L1635.2 780.43L1636.7 781.26L1638.2 782.19L1639.7 783.21L1641.2 784.33L1642.7 785.55L1644.2 786.88L1645.7 788.3L1647.2 789.83L1648.7 791.45L1650.2 793.18L1651.7 795.01L1653.2 796.95L1654.7 798.98L1656.2 801.11L1657.7 803.34L1659.2 805.66L1660.7 808.08L1662.2 810.59L1663.7 813.19L1665.2 815.87L1666.7 818.64L1668.2 821.48L1669.7 824.4L1671.2 827.38L1672.7 830.43L1674.2 833.54L1675.7 836.71L1677.2 839.92L1678.7 843.18L1680.2 846.48L1681.7 849.8L1683.2 853.16L1684.7 856.54L1686.2 859.94L1687.7 863.35L1689.2 866.78L1690.7 870.21L1692.2 873.65L1693.7 877.09L1695.2 880.53L1696.7 883.98L1698.2 887.43L1699.7 890.89L1701.2 894.36L1702.7 897.83L1704.2 901.31L1705.7 904.8L1707.2 908.31L1708.7 911.84L1710.2 915.39L1711.7 918.95L1713.2 922.54L1714.7 926.15L1716.2 929.78L1717.7 933.42L1719.2 937.08L1720.7 940.74L1722.2 944.41L1723.7 948.08L1725.2 951.74L1726.7 955.38L1728.2 959L1729.7 962.58L1731.2 966.12L1732.7 969.62L1734.2 973.05L1735.7 976.42L1737.2 979.72L1738.7 982.94L1740.2 986.07L1741.7 989.12L1743.2 992.07L1744.7 994.92L1746.2 997.67L1747.7 1000.33L1749.2 1002.88L1750.7 1005.33L1752.2 1007.69L1752.2 1050.6L1296.2 1050.6Z" fill="#bfbfbf" fill-opacity="0.28"/>
<path d="M1296.2 1042.13L1297.7 1041.5L1299.2 1040.82L1300.7 1040.09L1302.2 1039.31L1303.7 1038.47L1305.2 1037.57L1306.7 1036.61L1308.2 1035.58L1309.7 1034.48L1311.2 1033.28L1312.7 1032L1314.2 1030.62L1315.7 1029.12L1317.2 1027.51L1318.7 1025.76L1320.2 1023.87L1321.7 1021.82L1323.2 1019.59L1324.7 1017.19L1326.2 1014.58L1327.7 1011.76L1329.2 1008.71L1330.7 1005.43L1332.2 1001.9L1333.7 998.13L1335.2 994.1L1336.7 989.81L1338.2 985.28L1339.7 980.5L1341.2 975.5L1342.7 970.28L1344.2 964.87L1345.7 959.28L1347.2 953.55L1348.7 947.69L1350.2 941.73L1351.7 935.7L1353.2 929.61L1354.7 923.49L1356.2 917.36L1357.7 911.23L1359.2 905.1L1360.7 898.99L1362.2 892.9L1363.7 886.82L1365.2 880.75L1366.7 874.69L1368.2 868.63L1369.7 862.56L1371.2 856.49L1372.7 850.41L1374.2 844.32L1375.7 838.22L1377.2 832.12L1378.7 826.03L1380.2 819.96L1381.7 813.93L1383.2 807.95L1384.7 802.04L1386.2 796.22L1387.7 790.51L1389.2 784.93L1390.7 779.49L1392.2 774.23L1393.7 769.14L1395.2 764.24L1396.7 759.54L1398.2 755.06L1399.7 750.79L1401.2 746.73L1402.7 742.89L1404.2 739.26L1405.7 735.84L1407.2 732.63L1408.7 729.6L1410.2 726.76L1411.7 724.09L1413.2 721.59L1414.7 719.23L1416.2 717.01L1417.7 714.92L1419.2 712.94L1420.7 711.07L1422.2 709.29L1423.7 707.6L1425.2 705.98L1426.7 704.43L1428.2 702.95L1429.7 701.52L1431.2 700.15L1432.7 698.84L1434.2 697.58L1435.7 696.36L1437.2 695.21L1438.7 694.1L1440.2 693.05L1441.7 692.07L1443.2 691.14L1444.7 690.29L1446.2 689.5L1447.7 688.8L1449.2 688.17L1450.7 687.63L1452.2 687.18L1453.7 686.82L1455.2 686.56L1456.7 686.4L1458.2 686.34L1459.7 686.38L1461.2 686.53L1462.7 686.78L1464.2 687.14L1465.7 687.6L1467.2 688.16L1468.7 688.83L1470.2 689.59L1471.7 690.45L1473.2 691.4L1474.7 692.44L1476.2 693.57L1477.7 694.78L1479.2 696.07L1480.7 697.44L1482.2 698.88L1483.7 700.4L1485.2 701.99L1486.7 703.64L1488.2 705.37L1489.7 707.17L1491.2 709.04L1492.7 710.98L1494.2 712.98L1495.7 715.06L1497.2 717.2L1498.7 719.42L1500.2 721.7L1501.7 724.05L1503.2 726.46L1504.7 728.93L1506.2 731.46L1507.7 734.05L1509.2 736.68L1510.7 739.35L1512.2 742.05L1513.7 744.78L1515.2 747.51L1516.7 750.26L1518.2 752.99L1519.7 755.71L1521.2 758.4L1522.7 761.04L1524.2 763.64L1525.7 766.18L1527.2 768.64L1528.7 771.03L1530.2 773.32L1531.7 775.53L1533.2 777.63L1534.7 779.62L1536.2 781.5L1537.7 783.27L1539.2 784.92L1540.7 786.45L1542.2 787.86L1543.7 789.15L1545.2 790.33L1546.7 791.39L1548.2 792.33L1549.7 793.17L1551.2 793.89L1552.7 794.52L1554.2 795.04L1555.7 795.46L1557.2 795.79L1558.7 796.02L1560.2 796.18L1561.7 796.25L1563.2 796.24L1564.7 796.16L1566.2 796.01L1567.7 795.79L1569.2 795.51L1570.7 795.17L1572.2 794.78L1573.7 794.34L1575.2 793.85L1576.7 793.32L1578.2 792.75L1579.7 792.15L1581.2 791.51L1582.7 790.85L1584.2 790.17L1585.7 789.47L1587.2 788.75L1588.7 788.02L1590.2 787.29L1591.7 786.55L1593.2 785.81L1594.7 785.07L1596.2 784.35L1597.7 783.63L1599.2 782.94L1600.7 782.26L1602.2 781.61L1603.7 780.98L1605.2 780.39L1606.7 779.83L1608.2 779.31L1609.7 778.83L1611.2 778.4L1612.7 778.01L1614.2 777.69L1615.7 777.41L1617.2 777.2L1618.7 777.05L1620.2 776.97L1621.7 776.96L1623.2 777.02L1624.7 777.15L1626.2 777.36L1627.7 777.66L1629.2 778.04L1630.7 778.5L1632.2 779.05L1633.7 779.7L1635.2 780.43L1636.7 781.26L1638.2 782.19L1639.7 783.21L1641.2 784.33L1642.7 785.55L1644.2 786.88L1645.7 788.3L1647.2 789.83L1648.7 791.45L1650.2 793.18L1651.7 795.01L1653.2 796.95L1654.7 798.98L1656.2 801.11L1657.7 803.34L1659.2 805.66L1660.7 808.08L1662.2 810.59L1663.7 813.19L1665.2 815.87L1666.7 818.64L1668.2 821.48L1669.7 824.4L1671.2 827.38L1672.7 830.43L1674.2 833.54L1675.7 836.71L1677.2 839.92L1678.7 843.18L1680.2 846.48L1681.7 849.8L1683.2 853.16L1684.7 856.54L1686.2 859.94L1687.7 863.35L1689.2 866.78L1690.7 870.21L1692.2 873.65L1693.7 877.09L1695.2 880.53L1696.7 883.98L1698.2 887.43L1699.7 890.89L1701.2 894.36L1702.7 897.83L1704.2 901.31L1705.7 904.8L1707.2 908.31L1708.7 911.84L1710.2 915.39L1711.7 918.95L1713.2 922.54L1714.7 926.15L1716.2 929.78L1717.7 933.42L1719.2 937.08L1720.7 940.74L1722.2 944.41L1723.7 948.08L1725.2 951.74L1726.7 955.38L1728.2 959L1729.7 962.58L1731.2 966.12L1732.7 969.62L1734.2 973.05L1735.7 976.42L1737.2 979.72L1738.7 982.94L1740.2 986.07L1741.7 989.12L1743.2 992.07L1744.7 994.92L1746.2 997.67L1747.7 1000.33L1749.2 1002.88L1750.7 1005.33L1752.2 1007.69" fill="none" stroke="#c9c9c9" stroke-width="1.2" stroke-linejoin="round"/>
</g>
<rect x="1531" y="577" width="219" height="59.6" fill="#fff"/>
<path d="M1295.25 575.1H1753.15M1295.25 1050.6H1753.15" fill="none" stroke="#9a9a9a" stroke-width="1.9"/>
<path d="M1296.2 575.1V1050.6M1752.2 575.1V1050.6" fill="none" stroke="#868686" stroke-width="1.5"/>
<path d="M1296.2 1050.6v2.4M1387.4 1050.6v2.4M1478.6 1050.6v2.4M1569.8 1050.6v2.4M1661 1050.6v2.4M1752.2 1050.6v2.4M1296.2 1050.6h-2.4M1296.2 992.6h-2.4M1296.2 934.6h-2.4M1296.2 876.6h-2.4M1296.2 818.6h-2.4M1296.2 760.6h-2.4M1296.2 702.6h-2.4M1296.2 644.6h-2.4M1296.2 586.6h-2.4" stroke="#4a4a4a" stroke-width="1.2" fill="none"/>
<g font-family='"DejaVu Sans", "Liberation Sans", sans-serif' font-size="8.6" fill="#303030" stroke="#303030" stroke-width="0.3">
<text x="1296.2" y="1063.5" text-anchor="middle">0.0</text>
<text x="1387.4" y="1063.5" text-anchor="middle">0.2</text>
<text x="1478.6" y="1063.5" text-anchor="middle">0.4</text>
<text x="1569.8" y="1063.5" text-anchor="middle">0.6</text>
<text x="1661" y="1063.5" text-anchor="middle">0.8</text>
<text x="1752.2" y="1063.5" text-anchor="middle">1.0</text>
<text x="1288.8" y="1053.9" text-anchor="end">0.00</text>
<text x="1288.8" y="995.9" text-anchor="end">0.25</text>
<text x="1288.8" y="937.9" text-anchor="end">0.50</text>
<text x="1288.8" y="879.9" text-anchor="end">0.75</text>
<text x="1288.8" y="821.9" text-anchor="end">1.00</text>
<text x="1288.8" y="763.9" text-anchor="end">1.25</text>
<text x="1288.8" y="705.9" text-anchor="end">1.50</text>
<text x="1288.8" y="647.9" text-anchor="end">1.75</text>
<text x="1288.8" y="589.9" text-anchor="end">2.00</text>
</g>
<rect x="1533.9" y="579.8" width="213.6" height="52.2" rx="3" fill="#fff" fill-opacity="0.8" stroke="#cfcfcf" stroke-width="1.5"/>
<rect x="1540.6" y="588" width="31" height="11.2" rx="1.2" fill="#6aa84f" fill-opacity="0.37" stroke="#6aa84f" stroke-width="2.1"/>
<rect x="1540.6" y="611.6" width="31" height="11.2" rx="1.2" fill="#bfbfbf" fill-opacity="0.28" stroke="#d0d0d0" stroke-width="2.1"/>
<text x="1583.3" y="597.4" font-family='"DejaVu Sans", "Liberation Sans", sans-serif' font-size="15.6" fill="#262626" textLength="130.5" lengthAdjust="spacingAndGlyphs" stroke="#262626" stroke-width="0.35">GoFold TM-score</text>
<text x="1583.3" y="622.1" font-family='"DejaVu Sans", "Liberation Sans", sans-serif' font-size="15.6" fill="#262626" textLength="157.5" lengthAdjust="spacingAndGlyphs" stroke="#262626" stroke-width="0.35">map_align TM-score</text>
</g>
<rect x="1757.3" y="1053.5" width="14.7" height="14" fill="#fff"/>
<path d="M106.5 16V506.6H622.2" fill="none" stroke="#000" stroke-width="3.5"/>
<path d="M697.9 505.2H1174.6" fill="none" stroke="#000" stroke-width="3.4"/>
<path d="M1292.5 507.6H1759" fill="none" stroke="#000" stroke-width="3.5"/>
<path d="M104.9 590V1076.4H1758" fill="none" stroke="#000" stroke-width="3.5"/>
<path d="M106.5 5.6L100.2 18.2H112.8Z" fill="#000"/>
<path d="M1769.9 507.9L1757.1 501.5V514.3Z" fill="#000"/>
<path d="M104.9 578.6L98.7 590.9H111.1Z" fill="#000"/>
<path d="M1768.8 1076.4L1756.3 1070.0V1082.8Z" fill="#000"/>
<text x="64" y="29.7" font-family='"Liberation Sans", Arial, Helvetica, sans-serif' font-size="38" font-weight="bold">A</text>
<text x="651" y="30.2" font-family='"Liberation Sans", Arial, Helvetica, sans-serif' font-size="38" font-weight="bold">C</text>
<text x="1244" y="29.7" font-family='"Liberation Sans", Arial, Helvetica, sans-serif' font-size="38" font-weight="bold">E</text>
<text x="61.5" y="572.8" font-family='"Liberation Sans", Arial, Helvetica, sans-serif' font-size="38" font-weight="bold">B</text>
<text x="672" y="572.8" font-family='"Liberation Sans", Arial, Helvetica, sans-serif' font-size="38" font-weight="bold">D</text>
<text x="1253" y="572.8" font-family='"Liberation Sans", Arial, Helvetica, sans-serif' font-size="38" font-weight="bold">F</text>
<text font-family='"Liberation Sans", Arial, Helvetica, sans-serif' font-size="35" fill="#7f7f7f"><tspan x="161.84" y="174.7" textLength="93.94" lengthAdjust="spacingAndGlyphs">25.5%</tspan></text>
<text font-family='"Liberation Sans", Arial, Helvetica, sans-serif' font-size="35"><tspan x="444.89" y="454.9" textLength="93.99" lengthAdjust="spacingAndGlyphs">48.9%</tspan></text>
<text font-family='"Liberation Sans", Arial, Helvetica, sans-serif' font-size="35" fill="#7f7f7f"><tspan x="729.6" y="176" textLength="93.88" lengthAdjust="spacingAndGlyphs">16.8%</tspan></text>
<text font-family='"Liberation Sans", Arial, Helvetica, sans-serif' font-size="35"><tspan x="1037.65" y="454.6" textLength="65.88" lengthAdjust="spacingAndGlyphs">62%</tspan></text>
<text font-family='"Liberation Sans", Arial, Helvetica, sans-serif' font-size="35" fill="#7f7f7f"><tspan x="1316.3" y="176" textLength="93.88" lengthAdjust="spacingAndGlyphs">16.8%</tspan></text>
<text font-family='"Liberation Sans", Arial, Helvetica, sans-serif' font-size="35"><tspan x="1626.24" y="464.1" textLength="93.94" lengthAdjust="spacingAndGlyphs">65.7%</tspan></text>
<text font-family='"Liberation Sans", Arial, Helvetica, sans-serif' font-size="34"><tspan x="801.95" y="541.4" textLength="111.4" lengthAdjust="spacingAndGlyphs">GoFold</tspan> <tspan x="920.64" y="541.4" textLength="145.34" lengthAdjust="spacingAndGlyphs">TM-score</tspan></text>
<text font-family='"Liberation Sans", Arial, Helvetica, sans-serif' font-size="34"><tspan x="869.84" y="1109.5" textLength="146.26" lengthAdjust="spacingAndGlyphs">TM-score</tspan></text>
<text font-family='"Liberation Sans", Arial, Helvetica, sans-serif' font-size="34" transform="translate(87.4 869.99) rotate(-90)"><tspan x="0" y="0" textLength="115.22" lengthAdjust="spacingAndGlyphs">Density</tspan></text>
<text font-family='"Liberation Sans", Arial, Helvetica, sans-serif' font-size="34" transform="translate(87.3 447.42) rotate(-90)"><tspan x="0" y="0" textLength="161.83" lengthAdjust="spacingAndGlyphs">map_align</tspan> <tspan x="168.06" y="0" textLength="145.85" lengthAdjust="spacingAndGlyphs">TM-score</tspan></text>
<text font-family='"Liberation Sans", Arial, Helvetica, sans-serif' font-size="35.1" font-weight="bold" font-style="italic" stroke="#fff" stroke-width="0.22" stroke-linejoin="round" transform="translate(29.3 787.53) rotate(-90)"><tspan x="0" y="0" textLength="87.89" lengthAdjust="spacingAndGlyphs">Using</tspan> <tspan x="97.67" y="0" textLength="115.74" lengthAdjust="spacingAndGlyphs">PSICOV</tspan> <tspan x="221.4" y="0" textLength="149.39" lengthAdjust="spacingAndGlyphs">predicted</tspan> <tspan x="377.46" y="0" textLength="116.23" lengthAdjust="spacingAndGlyphs">contact</tspan> <tspan x="502.43" y="0" textLength="86.01" lengthAdjust="spacingAndGlyphs">maps</tspan></text>
<text font-family='"Liberation Sans", Arial, Helvetica, sans-serif' font-size="35.1" font-weight="bold" font-style="italic" stroke="#fff" stroke-width="0.22" stroke-linejoin="round" transform="translate(659.9 797.91) rotate(-90)"><tspan x="0" y="0" textLength="86.96" lengthAdjust="spacingAndGlyphs">Using</tspan> <tspan x="95.75" y="0" textLength="145.83" lengthAdjust="spacingAndGlyphs">trRosetta</tspan> <tspan x="252.18" y="0" textLength="149.29" lengthAdjust="spacingAndGlyphs">predicted</tspan> <tspan x="408.26" y="0" textLength="114.83" lengthAdjust="spacingAndGlyphs">contact</tspan> <tspan x="530.87" y="0" textLength="89.9" lengthAdjust="spacingAndGlyphs">maps</tspan></text>
<text font-family='"Liberation Sans", Arial, Helvetica, sans-serif' font-size="35.1" font-weight="bold" font-style="italic" stroke="#fff" stroke-width="0.22" stroke-linejoin="round" transform="translate(1232.8 727.51) rotate(-90)"><tspan x="0" y="0" textLength="86.96" lengthAdjust="spacingAndGlyphs">Using</tspan> <tspan x="97.58" y="0" textLength="98.13" lengthAdjust="spacingAndGlyphs">native</tspan> <tspan x="205.34" y="0" textLength="87.58" lengthAdjust="spacingAndGlyphs">(true)</tspan> <tspan x="303.86" y="0" textLength="114.13" lengthAdjust="spacingAndGlyphs">contact</tspan> <tspan x="428.6" y="0" textLength="86.01" lengthAdjust="spacingAndGlyphs">maps</tspan></text>
</svg></body></html>
